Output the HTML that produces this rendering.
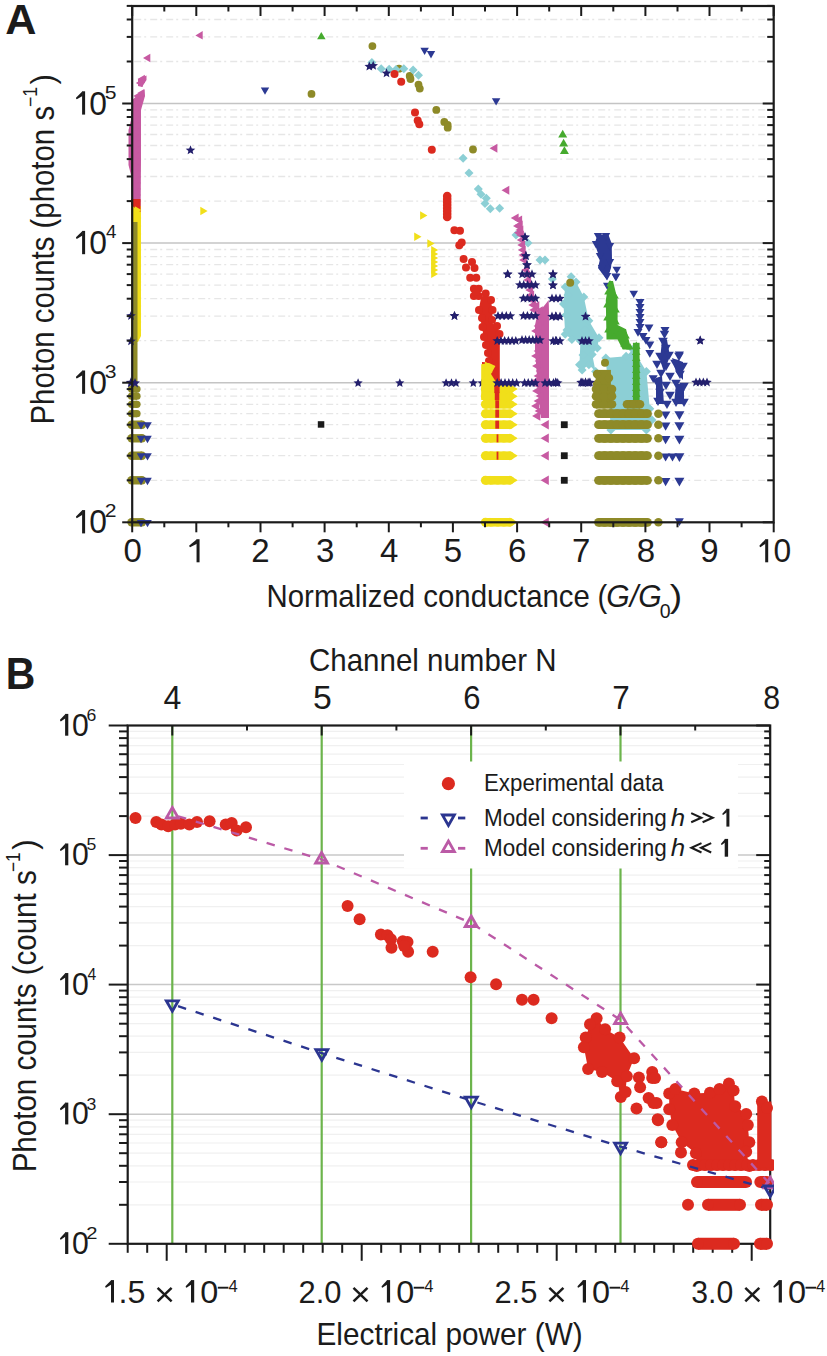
<!DOCTYPE html>
<html><head><meta charset="utf-8"><style>
html,body{margin:0;padding:0;background:#fff;}
svg{display:block;}
text{font-family:"Liberation Sans", sans-serif;fill:#1b1b1b;}
</style></head><body>
<svg width="827" height="1356" viewBox="0 0 827 1356">
<rect width="827" height="1356" fill="#fff"/>
<line x1="134.2" y1="480.3" x2="771.7" y2="480.3" stroke="#e6e6e6" stroke-width="1.3" stroke-dasharray="7 3 2 4"/>
<line x1="134.2" y1="455.7" x2="771.7" y2="455.7" stroke="#e6e6e6" stroke-width="1.3" stroke-dasharray="7 3 2 4"/>
<line x1="134.2" y1="438.3" x2="771.7" y2="438.3" stroke="#e6e6e6" stroke-width="1.3" stroke-dasharray="7 3 2 4"/>
<line x1="134.2" y1="424.7" x2="771.7" y2="424.7" stroke="#e6e6e6" stroke-width="1.3" stroke-dasharray="7 3 2 4"/>
<line x1="134.2" y1="413.7" x2="771.7" y2="413.7" stroke="#e6e6e6" stroke-width="1.3" stroke-dasharray="7 3 2 4"/>
<line x1="134.2" y1="404.3" x2="771.7" y2="404.3" stroke="#e6e6e6" stroke-width="1.3" stroke-dasharray="7 3 2 4"/>
<line x1="134.2" y1="396.2" x2="771.7" y2="396.2" stroke="#e6e6e6" stroke-width="1.3" stroke-dasharray="7 3 2 4"/>
<line x1="134.2" y1="389.1" x2="771.7" y2="389.1" stroke="#e6e6e6" stroke-width="1.3" stroke-dasharray="7 3 2 4"/>
<line x1="134.2" y1="340.7" x2="771.7" y2="340.7" stroke="#e6e6e6" stroke-width="1.3" stroke-dasharray="7 3 2 4"/>
<line x1="134.2" y1="316.1" x2="771.7" y2="316.1" stroke="#e6e6e6" stroke-width="1.3" stroke-dasharray="7 3 2 4"/>
<line x1="134.2" y1="298.7" x2="771.7" y2="298.7" stroke="#e6e6e6" stroke-width="1.3" stroke-dasharray="7 3 2 4"/>
<line x1="134.2" y1="285.1" x2="771.7" y2="285.1" stroke="#e6e6e6" stroke-width="1.3" stroke-dasharray="7 3 2 4"/>
<line x1="134.2" y1="274.1" x2="771.7" y2="274.1" stroke="#e6e6e6" stroke-width="1.3" stroke-dasharray="7 3 2 4"/>
<line x1="134.2" y1="264.7" x2="771.7" y2="264.7" stroke="#e6e6e6" stroke-width="1.3" stroke-dasharray="7 3 2 4"/>
<line x1="134.2" y1="256.6" x2="771.7" y2="256.6" stroke="#e6e6e6" stroke-width="1.3" stroke-dasharray="7 3 2 4"/>
<line x1="134.2" y1="249.5" x2="771.7" y2="249.5" stroke="#e6e6e6" stroke-width="1.3" stroke-dasharray="7 3 2 4"/>
<line x1="134.2" y1="201.1" x2="771.7" y2="201.1" stroke="#e6e6e6" stroke-width="1.3" stroke-dasharray="7 3 2 4"/>
<line x1="134.2" y1="176.5" x2="771.7" y2="176.5" stroke="#e6e6e6" stroke-width="1.3" stroke-dasharray="7 3 2 4"/>
<line x1="134.2" y1="159.1" x2="771.7" y2="159.1" stroke="#e6e6e6" stroke-width="1.3" stroke-dasharray="7 3 2 4"/>
<line x1="134.2" y1="145.5" x2="771.7" y2="145.5" stroke="#e6e6e6" stroke-width="1.3" stroke-dasharray="7 3 2 4"/>
<line x1="134.2" y1="134.5" x2="771.7" y2="134.5" stroke="#e6e6e6" stroke-width="1.3" stroke-dasharray="7 3 2 4"/>
<line x1="134.2" y1="125.1" x2="771.7" y2="125.1" stroke="#e6e6e6" stroke-width="1.3" stroke-dasharray="7 3 2 4"/>
<line x1="134.2" y1="117.0" x2="771.7" y2="117.0" stroke="#e6e6e6" stroke-width="1.3" stroke-dasharray="7 3 2 4"/>
<line x1="134.2" y1="109.9" x2="771.7" y2="109.9" stroke="#e6e6e6" stroke-width="1.3" stroke-dasharray="7 3 2 4"/>
<line x1="134.2" y1="61.5" x2="771.7" y2="61.5" stroke="#e6e6e6" stroke-width="1.3" stroke-dasharray="7 3 2 4"/>
<line x1="134.2" y1="36.9" x2="771.7" y2="36.9" stroke="#e6e6e6" stroke-width="1.3" stroke-dasharray="7 3 2 4"/>
<line x1="134.2" y1="19.5" x2="771.7" y2="19.5" stroke="#e6e6e6" stroke-width="1.3" stroke-dasharray="7 3 2 4"/>
<line x1="132.2" y1="382.7" x2="773.7" y2="382.7" stroke="#c4c4c4" stroke-width="1.5" />
<line x1="132.2" y1="243.1" x2="773.7" y2="243.1" stroke="#c4c4c4" stroke-width="1.5" />
<line x1="132.2" y1="103.5" x2="773.7" y2="103.5" stroke="#c4c4c4" stroke-width="1.5" />
<polygon points="138.0,79.0 146.5,75.5 146.5,80.0 142.0,87.0 138.0,86.0" fill="#c75aa2" opacity="1"/>
<polygon points="137.6,79.0 144.9,74.8 144.9,83.2" fill="#c75aa2"/>
<polygon points="135.8,83.0 142.8,79.0 142.8,87.0" fill="#c75aa2"/>
<polygon points="144.5,89.5 145.0,96.0 141.0,110.0 141.0,160.0 140.5,207.0 132.0,207.0 131.0,175.0 128.5,165.0 128.5,130.0 131.0,120.0 132.0,100.0" fill="#c75aa2" opacity="1"/>
<polygon points="133.3,96.0 140.3,92.0 140.3,100.0" fill="#c75aa2"/>
<polygon points="133.3,102.0 140.3,98.0 140.3,106.0" fill="#c75aa2"/>
<polygon points="133.3,108.0 140.3,104.0 140.3,112.0" fill="#c75aa2"/>
<polygon points="133.3,114.0 140.3,110.0 140.3,118.0" fill="#c75aa2"/>
<polygon points="133.3,120.0 140.3,116.0 140.3,124.0" fill="#c75aa2"/>
<polygon points="133.3,126.0 140.3,122.0 140.3,130.0" fill="#c75aa2"/>
<polygon points="133.3,132.0 140.3,128.0 140.3,136.0" fill="#c75aa2"/>
<polygon points="133.3,138.0 140.3,134.0 140.3,142.0" fill="#c75aa2"/>
<polygon points="133.3,144.0 140.3,140.0 140.3,148.0" fill="#c75aa2"/>
<polygon points="133.3,150.0 140.3,146.0 140.3,154.0" fill="#c75aa2"/>
<polygon points="133.3,156.0 140.3,152.0 140.3,160.0" fill="#c75aa2"/>
<polygon points="133.3,162.0 140.3,158.0 140.3,166.0" fill="#c75aa2"/>
<polygon points="133.3,168.0 140.3,164.0 140.3,172.0" fill="#c75aa2"/>
<polygon points="133.3,174.0 140.3,170.0 140.3,178.0" fill="#c75aa2"/>
<polygon points="133.3,180.0 140.3,176.0 140.3,184.0" fill="#c75aa2"/>
<polygon points="133.3,186.0 140.3,182.0 140.3,190.0" fill="#c75aa2"/>
<polygon points="133.3,192.0 140.3,188.0 140.3,196.0" fill="#c75aa2"/>
<polygon points="133.3,198.0 140.3,194.0 140.3,202.0" fill="#c75aa2"/>
<polygon points="133.3,204.0 140.3,200.0 140.3,208.0" fill="#c75aa2"/>
<polygon points="137.3,93.0 144.3,89.0 144.3,97.0" fill="#c75aa2"/>
<polygon points="143.0,58.0 150.3,53.8 150.3,62.2" fill="#c75aa2"/>
<polygon points="195.4,35.4 202.7,31.1 202.7,39.6" fill="#c75aa2"/>
<polygon points="131.0,206.0 141.0,206.0 141.0,336.0 138.0,342.0 131.0,342.0" fill="#f1df1a" opacity="1"/>
<polygon points="131.0,199.0 140.5,199.0 140.5,212.0 131.0,205.0" fill="#dc2a1f" opacity="1"/>
<polygon points="141.4,210.0 134.9,206.2 134.9,213.8" fill="#f1df1a"/>
<polygon points="141.4,218.0 134.9,214.2 134.9,221.8" fill="#f1df1a"/>
<polygon points="141.4,226.0 134.9,222.2 134.9,229.8" fill="#f1df1a"/>
<polygon points="141.4,234.0 134.9,230.2 134.9,237.8" fill="#f1df1a"/>
<polygon points="141.4,242.0 134.9,238.2 134.9,245.8" fill="#f1df1a"/>
<polygon points="141.4,250.0 134.9,246.2 134.9,253.8" fill="#f1df1a"/>
<polygon points="141.4,258.0 134.9,254.2 134.9,261.8" fill="#f1df1a"/>
<polygon points="141.4,266.0 134.9,262.2 134.9,269.8" fill="#f1df1a"/>
<polygon points="141.4,274.0 134.9,270.2 134.9,277.8" fill="#f1df1a"/>
<polygon points="141.4,282.0 134.9,278.2 134.9,285.8" fill="#f1df1a"/>
<polygon points="141.4,290.0 134.9,286.2 134.9,293.8" fill="#f1df1a"/>
<polygon points="141.4,298.0 134.9,294.2 134.9,301.8" fill="#f1df1a"/>
<polygon points="141.4,306.0 134.9,302.2 134.9,309.8" fill="#f1df1a"/>
<polygon points="141.4,314.0 134.9,310.2 134.9,317.8" fill="#f1df1a"/>
<polygon points="141.4,322.0 134.9,318.2 134.9,325.8" fill="#f1df1a"/>
<polygon points="141.4,330.0 134.9,326.2 134.9,333.8" fill="#f1df1a"/>
<polygon points="132.0,222.0 137.5,222.0 137.5,384.0 132.0,384.0" fill="#8e8a28" opacity="1"/>
<polygon points="131.5,385.5 137.0,385.5 137.0,392.7 131.5,392.7" fill="#8e8a28" opacity="1"/>
<circle cx="131.5" cy="389.1" r="3.6" fill="#8e8a28"/>
<circle cx="137.0" cy="389.1" r="3.6" fill="#8e8a28"/>
<polygon points="131.5,392.6 137.0,392.6 137.0,399.8 131.5,399.8" fill="#8e8a28" opacity="1"/>
<circle cx="131.5" cy="396.2" r="3.6" fill="#8e8a28"/>
<circle cx="137.0" cy="396.2" r="3.6" fill="#8e8a28"/>
<polygon points="131.5,400.7 137.0,400.7 137.0,407.9 131.5,407.9" fill="#8e8a28" opacity="1"/>
<circle cx="131.5" cy="404.3" r="3.6" fill="#8e8a28"/>
<circle cx="137.0" cy="404.3" r="3.6" fill="#8e8a28"/>
<polygon points="131.5,410.1 137.0,410.1 137.0,417.3 131.5,417.3" fill="#8e8a28" opacity="1"/>
<circle cx="131.5" cy="413.7" r="3.6" fill="#8e8a28"/>
<circle cx="137.0" cy="413.7" r="3.6" fill="#8e8a28"/>
<polygon points="131.5,420.5 142.0,420.5 142.0,428.9 131.5,428.9" fill="#8e8a28" opacity="1"/>
<circle cx="131.5" cy="424.7" r="4.2" fill="#8e8a28"/>
<circle cx="142.0" cy="424.7" r="4.2" fill="#8e8a28"/>
<polygon points="141.0,429.6 145.2,422.3 136.8,422.3" fill="#2c3993"/>
<polygon points="147.5,429.6 151.8,422.3 143.2,422.3" fill="#2c3993"/>
<polygon points="131.5,434.1 142.0,434.1 142.0,442.5 131.5,442.5" fill="#8e8a28" opacity="1"/>
<circle cx="131.5" cy="438.3" r="4.2" fill="#8e8a28"/>
<circle cx="142.0" cy="438.3" r="4.2" fill="#8e8a28"/>
<polygon points="141.0,443.2 145.2,435.8 136.8,435.8" fill="#2c3993"/>
<polygon points="147.5,443.2 151.8,435.8 143.2,435.8" fill="#2c3993"/>
<polygon points="131.5,451.5 142.0,451.5 142.0,459.9 131.5,459.9" fill="#8e8a28" opacity="1"/>
<circle cx="131.5" cy="455.7" r="4.2" fill="#8e8a28"/>
<circle cx="142.0" cy="455.7" r="4.2" fill="#8e8a28"/>
<polygon points="141.0,460.6 145.2,453.2 136.8,453.2" fill="#2c3993"/>
<polygon points="147.5,460.6 151.8,453.2 143.2,453.2" fill="#2c3993"/>
<polygon points="131.5,476.1 142.0,476.1 142.0,484.5 131.5,484.5" fill="#8e8a28" opacity="1"/>
<circle cx="131.5" cy="480.3" r="4.2" fill="#8e8a28"/>
<circle cx="142.0" cy="480.3" r="4.2" fill="#8e8a28"/>
<polygon points="141.0,485.2 145.2,477.8 136.8,477.8" fill="#2c3993"/>
<polygon points="147.5,485.2 151.8,477.8 143.2,477.8" fill="#2c3993"/>
<polygon points="131.5,518.1 142.0,518.1 142.0,526.5 131.5,526.5" fill="#8e8a28" opacity="1"/>
<circle cx="131.5" cy="522.3" r="4.2" fill="#8e8a28"/>
<circle cx="142.0" cy="522.3" r="4.2" fill="#8e8a28"/>
<polygon points="141.0,527.2 145.2,519.9 136.8,519.9" fill="#2c3993"/>
<polygon points="147.5,527.2 151.8,519.9 143.2,519.9" fill="#2c3993"/>
<polygon points="131.0,310.9 132.3,314.1 135.8,314.4 133.1,316.6 133.9,319.9 131.0,318.1 128.1,319.9 128.9,316.6 126.2,314.4 129.7,314.1" fill="#231f6c"/>
<polygon points="131.0,336.2 132.3,339.4 135.8,339.7 133.1,341.9 133.9,345.2 131.0,343.4 128.1,345.2 128.9,341.9 126.2,339.7 129.7,339.4" fill="#231f6c"/>
<polygon points="131.0,377.3 132.5,380.8 136.2,381.1 133.4,383.6 134.2,387.2 131.0,385.3 127.8,387.2 128.6,383.6 125.8,381.1 129.5,380.8" fill="#231f6c"/>
<polygon points="135.0,378.0 136.4,381.3 139.9,381.6 137.2,383.9 138.1,387.4 135.0,385.5 131.9,387.4 132.8,383.9 130.1,381.6 133.6,381.3" fill="#231f6c"/>
<polygon points="265.0,94.8 269.2,87.5 260.8,87.5" fill="#2c3993"/>
<circle cx="311.5" cy="93.9" r="3.9" fill="#8e8a28"/>
<polygon points="321.3,32.0 325.6,39.3 317.1,39.3" fill="#46aa2e"/>
<polygon points="190.5,145.3 191.8,148.5 195.3,148.8 192.6,151.0 193.4,154.3 190.5,152.6 187.6,154.3 188.4,151.0 185.7,148.8 189.2,148.5" fill="#231f6c"/>
<polygon points="207.6,210.9 200.3,206.7 200.3,215.2" fill="#f1df1a"/>
<rect x="317.8" y="421.2" width="6.5" height="6.5" fill="#1a1a1a"/>
<polygon points="358.1,378.2 359.4,381.3 362.7,381.5 360.2,383.7 360.9,386.9 358.1,385.2 355.3,386.9 356.0,383.7 353.5,381.5 356.8,381.3" fill="#231f6c"/>
<polygon points="399.8,378.2 401.1,381.3 404.4,381.5 401.9,383.7 402.6,386.9 399.8,385.2 397.0,386.9 397.7,383.7 395.2,381.5 398.5,381.3" fill="#231f6c"/>
<polygon points="446.1,378.2 447.4,381.3 450.7,381.5 448.2,383.7 448.9,386.9 446.1,385.2 443.3,386.9 444.0,383.7 441.5,381.5 444.8,381.3" fill="#231f6c"/>
<polygon points="451.5,378.2 452.8,381.3 456.1,381.5 453.6,383.7 454.3,386.9 451.5,385.2 448.7,386.9 449.4,383.7 446.9,381.5 450.2,381.3" fill="#231f6c"/>
<polygon points="456.0,378.2 457.3,381.3 460.6,381.5 458.1,383.7 458.8,386.9 456.0,385.2 453.2,386.9 453.9,383.7 451.4,381.5 454.7,381.3" fill="#231f6c"/>
<polygon points="473.3,378.2 474.6,381.3 477.9,381.5 475.4,383.7 476.1,386.9 473.3,385.2 470.5,386.9 471.2,383.7 468.7,381.5 472.0,381.3" fill="#231f6c"/>
<polygon points="482.1,378.2 483.4,381.3 486.7,381.5 484.2,383.7 484.9,386.9 482.1,385.2 479.3,386.9 480.0,383.7 477.5,381.5 480.8,381.3" fill="#231f6c"/>
<circle cx="372.4" cy="46.1" r="3.9" fill="#8e8a28"/>
<circle cx="399.0" cy="68.7" r="3.9" fill="#8e8a28"/>
<circle cx="409.7" cy="75.9" r="3.9" fill="#8e8a28"/>
<circle cx="410.5" cy="79.0" r="3.9" fill="#8e8a28"/>
<circle cx="418.5" cy="84.6" r="3.9" fill="#8e8a28"/>
<circle cx="419.8" cy="88.6" r="3.9" fill="#8e8a28"/>
<circle cx="436.3" cy="109.9" r="3.9" fill="#8e8a28"/>
<circle cx="444.3" cy="121.9" r="3.9" fill="#8e8a28"/>
<circle cx="447.7" cy="125.0" r="3.9" fill="#8e8a28"/>
<circle cx="447.7" cy="127.7" r="3.9" fill="#8e8a28"/>
<circle cx="473.0" cy="149.5" r="3.9" fill="#8e8a28"/>
<polygon points="371.9,58.1 376.4,62.6 371.9,67.1 367.4,62.6" fill="#8ccfd5"/>
<polygon points="381.2,64.2 385.7,68.7 381.2,73.2 376.7,68.7" fill="#8ccfd5"/>
<polygon points="389.2,64.7 393.7,69.2 389.2,73.7 384.7,69.2" fill="#8ccfd5"/>
<polygon points="396.0,65.0 400.5,69.5 396.0,74.0 391.5,69.5" fill="#8ccfd5"/>
<polygon points="403.8,64.2 408.3,68.7 403.8,73.2 399.3,68.7" fill="#8ccfd5"/>
<polygon points="413.1,65.5 417.6,70.0 413.1,74.5 408.6,70.0" fill="#8ccfd5"/>
<polygon points="418.5,70.8 423.0,75.3 418.5,79.8 414.0,75.3" fill="#8ccfd5"/>
<polygon points="463.1,153.8 467.6,158.3 463.1,162.8 458.6,158.3" fill="#8ccfd5"/>
<polygon points="469.0,168.4 473.5,172.9 469.0,177.4 464.5,172.9" fill="#8ccfd5"/>
<polygon points="478.3,184.4 482.8,188.9 478.3,193.4 473.8,188.9" fill="#8ccfd5"/>
<polygon points="481.0,189.7 485.5,194.2 481.0,198.7 476.5,194.2" fill="#8ccfd5"/>
<polygon points="486.3,193.7 490.8,198.2 486.3,202.7 481.8,198.2" fill="#8ccfd5"/>
<polygon points="485.0,199.0 489.5,203.5 485.0,208.0 480.5,203.5" fill="#8ccfd5"/>
<polygon points="490.3,204.3 494.8,208.8 490.3,213.3 485.8,208.8" fill="#8ccfd5"/>
<polygon points="499.6,203.8 504.1,208.3 499.6,212.8 495.1,208.3" fill="#8ccfd5"/>
<polygon points="516.0,230.4 520.5,234.9 516.0,239.4 511.5,234.9" fill="#8ccfd5"/>
<polygon points="528.0,238.5 532.5,243.0 528.0,247.5 523.5,243.0" fill="#8ccfd5"/>
<polygon points="540.0,255.5 544.5,260.0 540.0,264.5 535.5,260.0" fill="#8ccfd5"/>
<polygon points="545.0,255.5 549.5,260.0 545.0,264.5 540.5,260.0" fill="#8ccfd5"/>
<polygon points="552.4,274.5 556.9,279.0 552.4,283.5 547.9,279.0" fill="#8ccfd5"/>
<polygon points="369.3,61.5 370.6,64.7 374.1,65.0 371.4,67.2 372.2,70.5 369.3,68.8 366.4,70.5 367.2,67.2 364.5,65.0 368.0,64.7" fill="#231f6c"/>
<polygon points="373.2,60.7 374.5,63.9 378.0,64.2 375.3,66.4 376.1,69.7 373.2,68.0 370.3,69.7 371.1,66.4 368.4,64.2 371.9,63.9" fill="#231f6c"/>
<polygon points="386.5,68.2 387.8,71.4 391.3,71.7 388.6,73.9 389.4,77.2 386.5,75.5 383.6,77.2 384.4,73.9 381.7,71.7 385.2,71.4" fill="#231f6c"/>
<circle cx="394.5" cy="74.0" r="4" fill="#dc2a1f"/>
<circle cx="401.2" cy="81.7" r="4" fill="#dc2a1f"/>
<circle cx="415.0" cy="112.6" r="4" fill="#dc2a1f"/>
<circle cx="417.7" cy="120.5" r="4" fill="#dc2a1f"/>
<circle cx="419.3" cy="124.3" r="4" fill="#dc2a1f"/>
<circle cx="431.8" cy="149.8" r="4" fill="#dc2a1f"/>
<circle cx="454.4" cy="230.3" r="4" fill="#dc2a1f"/>
<circle cx="460.0" cy="230.8" r="4" fill="#dc2a1f"/>
<circle cx="459.3" cy="245.3" r="4" fill="#dc2a1f"/>
<circle cx="461.7" cy="242.4" r="4" fill="#dc2a1f"/>
<circle cx="463.6" cy="259.1" r="4" fill="#dc2a1f"/>
<circle cx="472.0" cy="262.1" r="4" fill="#dc2a1f"/>
<circle cx="466.0" cy="267.5" r="4" fill="#dc2a1f"/>
<circle cx="474.5" cy="268.1" r="4" fill="#dc2a1f"/>
<circle cx="470.2" cy="277.8" r="4" fill="#dc2a1f"/>
<circle cx="476.3" cy="277.8" r="4" fill="#dc2a1f"/>
<circle cx="473.9" cy="288.7" r="4" fill="#dc2a1f"/>
<circle cx="478.7" cy="288.7" r="4" fill="#dc2a1f"/>
<circle cx="473.9" cy="296.0" r="4" fill="#dc2a1f"/>
<circle cx="478.7" cy="296.0" r="4" fill="#dc2a1f"/>
<circle cx="476.0" cy="292.0" r="4" fill="#dc2a1f"/>
<circle cx="485.7" cy="293.5" r="4" fill="#dc2a1f"/>
<circle cx="488.4" cy="300.8" r="4" fill="#dc2a1f"/>
<circle cx="447.2" cy="196.0" r="4.3" fill="#dc2a1f"/>
<circle cx="447.2" cy="199.0" r="4.3" fill="#dc2a1f"/>
<circle cx="447.2" cy="202.0" r="4.3" fill="#dc2a1f"/>
<circle cx="447.2" cy="205.0" r="4.3" fill="#dc2a1f"/>
<circle cx="447.2" cy="208.0" r="4.3" fill="#dc2a1f"/>
<circle cx="447.2" cy="211.0" r="4.3" fill="#dc2a1f"/>
<circle cx="447.2" cy="214.0" r="4.3" fill="#dc2a1f"/>
<circle cx="447.2" cy="217.0" r="4.3" fill="#dc2a1f"/>
<polygon points="424.6,55.0 428.9,47.7 420.4,47.7" fill="#2c3993"/>
<polygon points="431.0,58.4 435.2,51.1 426.8,51.1" fill="#2c3993"/>
<polygon points="496.1,105.5 500.4,98.2 491.9,98.2" fill="#2c3993"/>
<polygon points="485.7,291.8 491.0,300.6 492.7,312.1 491.9,323.6 497.2,325.4 499.4,332.5 499.8,343.1 499.8,378.5 503.4,390.0 501.5,396.0 494.0,396.0 482.0,394.0 482.0,362.0 489.2,362.6 488.3,357.3 486.5,347.5 483.9,339.6 482.1,327.2 478.6,310.4 481.0,298.0" fill="#dc2a1f" opacity="1"/>
<circle cx="479.0" cy="310.0" r="4" fill="#dc2a1f"/>
<circle cx="482.0" cy="318.0" r="4" fill="#dc2a1f"/>
<circle cx="482.5" cy="327.0" r="4" fill="#dc2a1f"/>
<circle cx="484.0" cy="337.0" r="4" fill="#dc2a1f"/>
<circle cx="486.0" cy="345.0" r="4" fill="#dc2a1f"/>
<circle cx="488.0" cy="353.0" r="4" fill="#dc2a1f"/>
<circle cx="489.0" cy="361.0" r="4" fill="#dc2a1f"/>
<circle cx="491.0" cy="300.0" r="4" fill="#dc2a1f"/>
<circle cx="492.5" cy="310.0" r="4" fill="#dc2a1f"/>
<circle cx="492.0" cy="320.0" r="4" fill="#dc2a1f"/>
<circle cx="497.0" cy="326.0" r="4" fill="#dc2a1f"/>
<circle cx="499.5" cy="334.0" r="4" fill="#dc2a1f"/>
<polygon points="427.4,215.5 420.1,211.2 420.1,219.8" fill="#f1df1a"/>
<polygon points="421.5,236.8 414.2,232.6 414.2,241.1" fill="#f1df1a"/>
<polygon points="434.6,243.4 427.3,239.2 427.3,247.7" fill="#f1df1a"/>
<polygon points="438.2,250.0 431.2,246.0 431.2,254.0" fill="#f1df1a"/>
<polygon points="438.2,254.0 431.2,250.0 431.2,258.0" fill="#f1df1a"/>
<polygon points="438.2,258.0 431.2,254.0 431.2,262.0" fill="#f1df1a"/>
<polygon points="438.2,262.0 431.2,258.0 431.2,266.0" fill="#f1df1a"/>
<polygon points="438.2,266.0 431.2,262.0 431.2,270.0" fill="#f1df1a"/>
<polygon points="438.2,270.0 431.2,266.0 431.2,274.0" fill="#f1df1a"/>
<polygon points="438.2,274.0 431.2,270.0 431.2,278.0" fill="#f1df1a"/>
<polygon points="481.2,364.3 489.0,363.0 495.4,366.0 491.0,374.0 496.0,382.0 493.0,392.0 497.0,400.0 481.2,400.0" fill="#f1df1a" opacity="1"/>
<polygon points="492.7,366.0 484.9,361.5 484.9,370.5" fill="#f1df1a"/>
<polygon points="492.7,372.0 484.9,367.5 484.9,376.5" fill="#f1df1a"/>
<polygon points="492.7,378.0 484.9,373.5 484.9,382.5" fill="#f1df1a"/>
<polygon points="492.7,384.0 484.9,379.5 484.9,388.5" fill="#f1df1a"/>
<polygon points="492.7,390.0 484.9,385.5 484.9,394.5" fill="#f1df1a"/>
<polygon points="492.7,396.0 484.9,391.5 484.9,400.5" fill="#f1df1a"/>
<polygon points="485.5,384.8 510.0,384.8 510.0,393.4 485.5,393.4" fill="#f1df1a" opacity="1"/>
<circle cx="485.5" cy="389.1" r="4.3" fill="#f1df1a"/>
<circle cx="491.6" cy="389.1" r="4.3" fill="#f1df1a"/>
<circle cx="497.8" cy="389.1" r="4.3" fill="#f1df1a"/>
<circle cx="503.9" cy="389.1" r="4.3" fill="#f1df1a"/>
<circle cx="510.0" cy="389.1" r="4.3" fill="#f1df1a"/>
<polygon points="517.9,389.1 509.7,384.3 509.7,393.8" fill="#f1df1a"/>
<polygon points="497.7,389.1 489.9,384.6 489.9,393.6" fill="#f1df1a"/>
<circle cx="485.5" cy="389.1" r="4.5" fill="#f1df1a"/>
<polygon points="485.5,391.9 510.0,391.9 510.0,400.5 485.5,400.5" fill="#f1df1a" opacity="1"/>
<circle cx="485.5" cy="396.2" r="4.3" fill="#f1df1a"/>
<circle cx="491.6" cy="396.2" r="4.3" fill="#f1df1a"/>
<circle cx="497.8" cy="396.2" r="4.3" fill="#f1df1a"/>
<circle cx="503.9" cy="396.2" r="4.3" fill="#f1df1a"/>
<circle cx="510.0" cy="396.2" r="4.3" fill="#f1df1a"/>
<polygon points="517.9,396.2 509.7,391.5 509.7,401.0" fill="#f1df1a"/>
<polygon points="497.7,396.2 489.9,391.7 489.9,400.7" fill="#f1df1a"/>
<circle cx="485.5" cy="396.2" r="4.5" fill="#f1df1a"/>
<polygon points="485.5,400.0 510.0,400.0 510.0,408.6 485.5,408.6" fill="#f1df1a" opacity="1"/>
<circle cx="485.5" cy="404.3" r="4.3" fill="#f1df1a"/>
<circle cx="491.6" cy="404.3" r="4.3" fill="#f1df1a"/>
<circle cx="497.8" cy="404.3" r="4.3" fill="#f1df1a"/>
<circle cx="503.9" cy="404.3" r="4.3" fill="#f1df1a"/>
<circle cx="510.0" cy="404.3" r="4.3" fill="#f1df1a"/>
<polygon points="517.9,404.3 509.7,399.6 509.7,409.1" fill="#f1df1a"/>
<polygon points="497.7,404.3 489.9,399.8 489.9,408.8" fill="#f1df1a"/>
<circle cx="485.5" cy="404.3" r="4.5" fill="#f1df1a"/>
<polygon points="485.5,409.4 510.0,409.4 510.0,418.0 485.5,418.0" fill="#f1df1a" opacity="1"/>
<circle cx="485.5" cy="413.7" r="4.3" fill="#f1df1a"/>
<circle cx="491.6" cy="413.7" r="4.3" fill="#f1df1a"/>
<circle cx="497.8" cy="413.7" r="4.3" fill="#f1df1a"/>
<circle cx="503.9" cy="413.7" r="4.3" fill="#f1df1a"/>
<circle cx="510.0" cy="413.7" r="4.3" fill="#f1df1a"/>
<polygon points="517.9,413.7 509.7,408.9 509.7,418.4" fill="#f1df1a"/>
<polygon points="497.7,413.7 489.9,409.2 489.9,418.2" fill="#f1df1a"/>
<circle cx="485.5" cy="413.7" r="4.5" fill="#f1df1a"/>
<polygon points="485.5,420.4 510.0,420.4 510.0,429.0 485.5,429.0" fill="#f1df1a" opacity="1"/>
<circle cx="485.5" cy="424.7" r="4.3" fill="#f1df1a"/>
<circle cx="491.6" cy="424.7" r="4.3" fill="#f1df1a"/>
<circle cx="497.8" cy="424.7" r="4.3" fill="#f1df1a"/>
<circle cx="503.9" cy="424.7" r="4.3" fill="#f1df1a"/>
<circle cx="510.0" cy="424.7" r="4.3" fill="#f1df1a"/>
<polygon points="517.9,424.7 509.7,420.0 509.7,429.5" fill="#f1df1a"/>
<polygon points="497.7,424.7 489.9,420.2 489.9,429.2" fill="#f1df1a"/>
<circle cx="485.5" cy="424.7" r="4.5" fill="#f1df1a"/>
<polygon points="485.5,434.0 510.0,434.0 510.0,442.6 485.5,442.6" fill="#f1df1a" opacity="1"/>
<circle cx="485.5" cy="438.3" r="4.3" fill="#f1df1a"/>
<circle cx="491.6" cy="438.3" r="4.3" fill="#f1df1a"/>
<circle cx="497.8" cy="438.3" r="4.3" fill="#f1df1a"/>
<circle cx="503.9" cy="438.3" r="4.3" fill="#f1df1a"/>
<circle cx="510.0" cy="438.3" r="4.3" fill="#f1df1a"/>
<polygon points="517.9,438.3 509.7,433.5 509.7,443.0" fill="#f1df1a"/>
<polygon points="497.7,438.3 489.9,433.8 489.9,442.8" fill="#f1df1a"/>
<circle cx="485.5" cy="438.3" r="4.5" fill="#f1df1a"/>
<polygon points="485.5,451.4 510.0,451.4 510.0,460.0 485.5,460.0" fill="#f1df1a" opacity="1"/>
<circle cx="485.5" cy="455.7" r="4.3" fill="#f1df1a"/>
<circle cx="491.6" cy="455.7" r="4.3" fill="#f1df1a"/>
<circle cx="497.8" cy="455.7" r="4.3" fill="#f1df1a"/>
<circle cx="503.9" cy="455.7" r="4.3" fill="#f1df1a"/>
<circle cx="510.0" cy="455.7" r="4.3" fill="#f1df1a"/>
<polygon points="517.9,455.7 509.7,450.9 509.7,460.4" fill="#f1df1a"/>
<polygon points="497.7,455.7 489.9,451.2 489.9,460.2" fill="#f1df1a"/>
<circle cx="485.5" cy="455.7" r="4.5" fill="#f1df1a"/>
<polygon points="485.5,476.0 510.0,476.0 510.0,484.6 485.5,484.6" fill="#f1df1a" opacity="1"/>
<circle cx="485.5" cy="480.3" r="4.3" fill="#f1df1a"/>
<circle cx="491.6" cy="480.3" r="4.3" fill="#f1df1a"/>
<circle cx="497.8" cy="480.3" r="4.3" fill="#f1df1a"/>
<circle cx="503.9" cy="480.3" r="4.3" fill="#f1df1a"/>
<circle cx="510.0" cy="480.3" r="4.3" fill="#f1df1a"/>
<polygon points="517.9,480.3 509.7,475.5 509.7,485.0" fill="#f1df1a"/>
<polygon points="497.7,480.3 489.9,475.8 489.9,484.8" fill="#f1df1a"/>
<circle cx="485.5" cy="480.3" r="4.5" fill="#f1df1a"/>
<polygon points="485.5,518.0 510.0,518.0 510.0,526.6 485.5,526.6" fill="#f1df1a" opacity="1"/>
<circle cx="485.5" cy="522.3" r="4.3" fill="#f1df1a"/>
<circle cx="491.6" cy="522.3" r="4.3" fill="#f1df1a"/>
<circle cx="497.8" cy="522.3" r="4.3" fill="#f1df1a"/>
<circle cx="503.9" cy="522.3" r="4.3" fill="#f1df1a"/>
<circle cx="510.0" cy="522.3" r="4.3" fill="#f1df1a"/>
<polygon points="517.9,522.3 509.7,517.5 509.7,527.0" fill="#f1df1a"/>
<polygon points="497.7,522.3 489.9,517.8 489.9,526.8" fill="#f1df1a"/>
<circle cx="485.5" cy="522.3" r="4.5" fill="#f1df1a"/>
<polygon points="494.3,385.1 499.6,385.1 499.6,393.1 494.3,393.1" fill="#dc2a1f" opacity="1"/>
<polygon points="494.8,392.2 499.3,392.2 499.3,400.2 494.8,400.2" fill="#dc2a1f" opacity="1"/>
<polygon points="495.3,400.3 499.1,400.3 499.1,408.3 495.3,408.3" fill="#dc2a1f" opacity="1"/>
<polygon points="495.3,409.7 499.1,409.7 499.1,417.7 495.3,417.7" fill="#dc2a1f" opacity="1"/>
<polygon points="495.3,420.7 499.1,420.7 499.1,428.7 495.3,428.7" fill="#dc2a1f" opacity="1"/>
<polygon points="496.6,434.3 498.4,434.3 498.4,442.3 496.6,442.3" fill="#dc2a1f" opacity="1"/>
<polygon points="496.6,451.7 498.4,451.7 498.4,459.7 496.6,459.7" fill="#dc2a1f" opacity="1"/>
<polygon points="489.6,148.2 497.4,143.7 497.4,152.7" fill="#c75aa2"/>
<polygon points="501.5,190.2 509.3,185.7 509.3,194.7" fill="#c75aa2"/>
<polygon points="510.8,218.1 518.6,213.6 518.6,222.6" fill="#c75aa2"/>
<polygon points="513.0,226.1 520.8,221.6 520.8,230.6" fill="#c75aa2"/>
<polygon points="514.0,232.8 521.8,228.3 521.8,237.3" fill="#c75aa2"/>
<polygon points="514.3,220.0 522.1,215.5 522.1,224.5" fill="#c75aa2"/>
<polygon points="514.9,225.0 522.7,220.5 522.7,229.5" fill="#c75aa2"/>
<polygon points="515.5,230.0 523.3,225.5 523.3,234.5" fill="#c75aa2"/>
<polygon points="516.1,235.0 523.9,230.5 523.9,239.5" fill="#c75aa2"/>
<polygon points="516.7,240.0 524.5,235.5 524.5,244.5" fill="#c75aa2"/>
<polygon points="517.3,245.0 525.1,240.5 525.1,249.5" fill="#c75aa2"/>
<polygon points="517.9,250.0 525.7,245.5 525.7,254.5" fill="#c75aa2"/>
<polygon points="518.5,255.0 526.3,250.5 526.3,259.5" fill="#c75aa2"/>
<polygon points="519.1,260.0 526.9,255.5 526.9,264.5" fill="#c75aa2"/>
<polygon points="521.3,270.0 529.1,265.5 529.1,274.5" fill="#c75aa2"/>
<polygon points="522.3,275.0 530.1,270.5 530.1,279.5" fill="#c75aa2"/>
<polygon points="523.3,280.0 531.1,275.5 531.1,284.5" fill="#c75aa2"/>
<polygon points="524.3,285.0 532.1,280.5 532.1,289.5" fill="#c75aa2"/>
<polygon points="525.3,290.0 533.1,285.5 533.1,294.5" fill="#c75aa2"/>
<polygon points="526.3,295.0 534.1,290.5 534.1,299.5" fill="#c75aa2"/>
<polygon points="527.3,300.0 535.1,295.5 535.1,304.5" fill="#c75aa2"/>
<polygon points="528.3,305.0 536.1,300.5 536.1,309.5" fill="#c75aa2"/>
<polygon points="529.3,310.0 537.1,305.5 537.1,314.5" fill="#c75aa2"/>
<polygon points="538.0,312.0 544.0,306.0 548.7,300.0 549.0,312.0 549.0,418.0 541.0,418.0 538.0,390.0 535.0,350.0 535.0,325.0" fill="#c75aa2" opacity="1"/>
<polygon points="531.1,306.0 539.3,301.2 539.3,310.8" fill="#c75aa2"/>
<polygon points="534.6,311.0 542.8,306.2 542.8,315.8" fill="#c75aa2"/>
<polygon points="532.1,316.0 540.3,311.2 540.3,320.8" fill="#c75aa2"/>
<polygon points="535.6,321.0 543.8,316.2 543.8,325.8" fill="#c75aa2"/>
<polygon points="533.6,326.0 541.8,321.2 541.8,330.8" fill="#c75aa2"/>
<polygon points="531.1,331.0 539.3,326.2 539.3,335.8" fill="#c75aa2"/>
<polygon points="534.6,336.0 542.8,331.2 542.8,340.8" fill="#c75aa2"/>
<polygon points="532.1,341.0 540.3,336.2 540.3,345.8" fill="#c75aa2"/>
<polygon points="535.6,346.0 543.8,341.2 543.8,350.8" fill="#c75aa2"/>
<polygon points="533.6,351.0 541.8,346.2 541.8,355.8" fill="#c75aa2"/>
<polygon points="531.1,356.0 539.3,351.2 539.3,360.8" fill="#c75aa2"/>
<polygon points="534.6,361.0 542.8,356.2 542.8,365.8" fill="#c75aa2"/>
<polygon points="532.1,366.0 540.3,361.2 540.3,370.8" fill="#c75aa2"/>
<polygon points="535.6,371.0 543.8,366.2 543.8,375.8" fill="#c75aa2"/>
<polygon points="533.6,376.0 541.8,371.2 541.8,380.8" fill="#c75aa2"/>
<polygon points="531.1,381.0 539.3,376.2 539.3,385.8" fill="#c75aa2"/>
<polygon points="534.6,386.0 542.8,381.2 542.8,390.8" fill="#c75aa2"/>
<polygon points="532.1,391.0 540.3,386.2 540.3,395.8" fill="#c75aa2"/>
<polygon points="535.6,396.0 543.8,391.2 543.8,400.8" fill="#c75aa2"/>
<polygon points="533.6,401.0 541.8,396.2 541.8,405.8" fill="#c75aa2"/>
<polygon points="531.1,406.0 539.3,401.2 539.3,410.8" fill="#c75aa2"/>
<polygon points="534.6,411.0 542.8,406.2 542.8,415.8" fill="#c75aa2"/>
<polygon points="532.1,416.0 540.3,411.2 540.3,420.8" fill="#c75aa2"/>
<polygon points="540.6,424.7 548.8,420.0 548.8,429.5" fill="#c75aa2"/>
<polygon points="540.6,438.3 548.8,433.5 548.8,443.0" fill="#c75aa2"/>
<polygon points="540.6,455.7 548.8,450.9 548.8,460.4" fill="#c75aa2"/>
<polygon points="540.6,480.3 548.8,475.5 548.8,485.0" fill="#c75aa2"/>
<polygon points="540.6,522.3 548.8,517.5 548.8,527.0" fill="#c75aa2"/>
<polygon points="454.5,310.9 455.8,314.1 459.3,314.4 456.6,316.6 457.4,319.9 454.5,318.1 451.6,319.9 452.4,316.6 449.7,314.4 453.2,314.1" fill="#231f6c"/>
<polygon points="454.5,310.9 455.8,314.1 459.3,314.4 456.6,316.6 457.4,319.9 454.5,318.1 451.6,319.9 452.4,316.6 449.7,314.4 453.2,314.1" fill="#231f6c"/>
<polygon points="498.0,311.0 499.3,314.2 502.8,314.5 500.1,316.7 500.9,320.0 498.0,318.2 495.1,320.0 495.9,316.7 493.2,314.5 496.7,314.2" fill="#231f6c"/>
<polygon points="502.1,311.0 503.5,314.2 506.9,314.5 504.3,316.7 505.1,320.0 502.1,318.2 499.2,320.0 500.0,316.7 497.4,314.5 500.8,314.2" fill="#231f6c"/>
<polygon points="506.3,311.0 507.6,314.2 511.0,314.5 508.4,316.7 509.2,320.0 506.3,318.2 503.3,320.0 504.1,316.7 501.5,314.5 504.9,314.2" fill="#231f6c"/>
<polygon points="510.4,311.0 511.7,314.2 515.2,314.5 512.5,316.7 513.3,320.0 510.4,318.2 507.5,320.0 508.3,316.7 505.6,314.5 509.1,314.2" fill="#231f6c"/>
<polygon points="523.4,310.9 524.7,314.1 528.2,314.4 525.5,316.6 526.3,319.9 523.4,318.1 520.5,319.9 521.3,316.6 518.6,314.4 522.1,314.1" fill="#231f6c"/>
<polygon points="527.4,310.9 528.8,314.1 532.2,314.4 529.6,316.6 530.4,319.9 527.4,318.1 524.5,319.9 525.3,316.6 522.7,314.4 526.1,314.1" fill="#231f6c"/>
<polygon points="531.5,310.9 532.8,314.1 536.2,314.4 533.6,316.6 534.4,319.9 531.5,318.1 528.5,319.9 529.3,316.6 526.7,314.4 530.1,314.1" fill="#231f6c"/>
<polygon points="535.5,310.9 536.8,314.1 540.3,314.4 537.6,316.6 538.4,319.9 535.5,318.1 532.6,319.9 533.4,316.6 530.7,314.4 534.2,314.1" fill="#231f6c"/>
<polygon points="497.2,335.9 498.5,339.1 502.0,339.4 499.3,341.6 500.1,344.9 497.2,343.1 494.3,344.9 495.1,341.6 492.4,339.4 495.9,339.1" fill="#231f6c"/>
<polygon points="500.9,335.9 502.2,339.1 505.7,339.4 503.1,341.6 503.9,344.9 500.9,343.1 498.0,344.9 498.8,341.6 496.2,339.4 499.6,339.1" fill="#231f6c"/>
<polygon points="504.6,335.9 506.0,339.1 509.4,339.4 506.8,341.6 507.6,344.9 504.6,343.1 501.7,344.9 502.5,341.6 499.9,339.4 503.3,339.1" fill="#231f6c"/>
<polygon points="508.4,335.9 509.7,339.1 513.1,339.4 510.5,341.6 511.3,344.9 508.4,343.1 505.4,344.9 506.2,341.6 503.6,339.4 507.0,339.1" fill="#231f6c"/>
<polygon points="512.1,335.9 513.4,339.1 516.8,339.4 514.2,341.6 515.0,344.9 512.1,343.1 509.1,344.9 509.9,341.6 507.3,339.4 510.8,339.1" fill="#231f6c"/>
<polygon points="515.8,335.9 517.1,339.1 520.6,339.4 517.9,341.6 518.7,344.9 515.8,343.1 512.9,344.9 513.7,341.6 511.0,339.4 514.5,339.1" fill="#231f6c"/>
<polygon points="522.0,335.1 523.3,338.3 526.8,338.6 524.1,340.8 524.9,344.1 522.0,342.4 519.1,344.1 519.9,340.8 517.2,338.6 520.7,338.3" fill="#231f6c"/>
<polygon points="525.6,335.1 526.9,338.3 530.4,338.6 527.7,340.8 528.5,344.1 525.6,342.4 522.7,344.1 523.5,340.8 520.8,338.6 524.3,338.3" fill="#231f6c"/>
<polygon points="529.2,335.1 530.5,338.3 534.0,338.6 531.3,340.8 532.1,344.1 529.2,342.4 526.3,344.1 527.1,340.8 524.4,338.6 527.9,338.3" fill="#231f6c"/>
<polygon points="532.8,335.1 534.1,338.3 537.6,338.6 534.9,340.8 535.7,344.1 532.8,342.4 529.9,344.1 530.7,340.8 528.0,338.6 531.5,338.3" fill="#231f6c"/>
<polygon points="536.4,335.1 537.7,338.3 541.2,338.6 538.5,340.8 539.3,344.1 536.4,342.4 533.5,344.1 534.3,340.8 531.6,338.6 535.1,338.3" fill="#231f6c"/>
<polygon points="540.0,335.1 541.3,338.3 544.8,338.6 542.1,340.8 542.9,344.1 540.0,342.4 537.1,344.1 537.9,340.8 535.2,338.6 538.7,338.3" fill="#231f6c"/>
<polygon points="497.2,378.0 498.5,381.2 502.0,381.5 499.3,383.7 500.1,387.0 497.2,385.2 494.3,387.0 495.1,383.7 492.4,381.5 495.9,381.2" fill="#231f6c"/>
<polygon points="501.1,378.0 502.4,381.2 505.8,381.5 503.2,383.7 504.0,387.0 501.1,385.2 498.1,387.0 498.9,383.7 496.3,381.5 499.8,381.2" fill="#231f6c"/>
<polygon points="505.0,378.0 506.3,381.2 509.7,381.5 507.1,383.7 507.9,387.0 505.0,385.2 502.0,387.0 502.8,383.7 500.2,381.5 503.6,381.2" fill="#231f6c"/>
<polygon points="508.8,378.0 510.2,381.2 513.6,381.5 511.0,383.7 511.8,387.0 508.8,385.2 505.9,387.0 506.7,383.7 504.1,381.5 507.5,381.2" fill="#231f6c"/>
<polygon points="512.7,378.0 514.0,381.2 517.5,381.5 514.9,383.7 515.7,387.0 512.7,385.2 509.8,387.0 510.6,383.7 508.0,381.5 511.4,381.2" fill="#231f6c"/>
<polygon points="516.6,378.0 517.9,381.2 521.4,381.5 518.7,383.7 519.5,387.0 516.6,385.2 513.7,387.0 514.5,383.7 511.8,381.5 515.3,381.2" fill="#231f6c"/>
<polygon points="524.6,378.0 525.9,381.2 529.4,381.5 526.7,383.7 527.5,387.0 524.6,385.2 521.7,387.0 522.5,383.7 519.8,381.5 523.3,381.2" fill="#231f6c"/>
<polygon points="528.2,378.0 529.6,381.2 533.0,381.5 530.4,383.7 531.2,387.0 528.2,385.2 525.3,387.0 526.1,383.7 523.5,381.5 526.9,381.2" fill="#231f6c"/>
<polygon points="531.9,378.0 533.2,381.2 536.6,381.5 534.0,383.7 534.8,387.0 531.9,385.2 528.9,387.0 529.7,383.7 527.1,381.5 530.5,381.2" fill="#231f6c"/>
<polygon points="535.5,378.0 536.8,381.2 540.3,381.5 537.6,383.7 538.4,387.0 535.5,385.2 532.6,387.0 533.4,383.7 530.7,381.5 534.2,381.2" fill="#231f6c"/>
<polygon points="545.0,378.0 546.3,381.2 549.8,381.5 547.1,383.7 547.9,387.0 545.0,385.2 542.1,387.0 542.9,383.7 540.2,381.5 543.7,381.2" fill="#231f6c"/>
<polygon points="549.2,378.0 550.6,381.2 554.0,381.5 551.4,383.7 552.2,387.0 549.2,385.2 546.3,387.0 547.1,383.7 544.5,381.5 547.9,381.2" fill="#231f6c"/>
<polygon points="553.5,378.0 554.8,381.2 558.2,381.5 555.6,383.7 556.4,387.0 553.5,385.2 550.5,387.0 551.3,383.7 548.7,381.5 552.1,381.2" fill="#231f6c"/>
<polygon points="557.7,378.0 559.0,381.2 562.5,381.5 559.8,383.7 560.6,387.0 557.7,385.2 554.8,387.0 555.6,383.7 552.9,381.5 556.4,381.2" fill="#231f6c"/>
<polygon points="583.0,378.0 584.3,381.2 587.8,381.5 585.1,383.7 585.9,387.0 583.0,385.2 580.1,387.0 580.9,383.7 578.2,381.5 581.7,381.2" fill="#231f6c"/>
<polygon points="588.0,378.0 589.3,381.2 592.8,381.5 590.1,383.7 590.9,387.0 588.0,385.2 585.1,387.0 585.9,383.7 583.2,381.5 586.7,381.2" fill="#231f6c"/>
<polygon points="507.7,269.2 509.0,272.4 512.5,272.7 509.8,274.9 510.6,278.2 507.7,276.4 504.8,278.2 505.6,274.9 502.9,272.7 506.4,272.4" fill="#231f6c"/>
<polygon points="507.7,269.2 509.0,272.4 512.5,272.7 509.8,274.9 510.6,278.2 507.7,276.4 504.8,278.2 505.6,274.9 502.9,272.7 506.4,272.4" fill="#231f6c"/>
<polygon points="522.2,269.2 523.5,272.4 527.0,272.7 524.3,274.9 525.1,278.2 522.2,276.4 519.3,278.2 520.1,274.9 517.4,272.7 520.9,272.4" fill="#231f6c"/>
<polygon points="527.1,269.2 528.4,272.4 531.9,272.7 529.2,274.9 530.0,278.2 527.1,276.4 524.2,278.2 525.0,274.9 522.3,272.7 525.8,272.4" fill="#231f6c"/>
<polygon points="532.0,269.2 533.3,272.4 536.8,272.7 534.1,274.9 534.9,278.2 532.0,276.4 529.1,278.2 529.9,274.9 527.2,272.7 530.7,272.4" fill="#231f6c"/>
<polygon points="519.8,280.0 521.1,283.2 524.6,283.5 521.9,285.7 522.7,289.0 519.8,287.2 516.9,289.0 517.7,285.7 515.0,283.5 518.5,283.2" fill="#231f6c"/>
<polygon points="523.7,280.0 525.0,283.2 528.5,283.5 525.9,285.7 526.7,289.0 523.7,287.2 520.8,289.0 521.6,285.7 519.0,283.5 522.4,283.2" fill="#231f6c"/>
<polygon points="527.6,280.0 529.0,283.2 532.4,283.5 529.8,285.7 530.6,289.0 527.6,287.2 524.7,289.0 525.5,285.7 522.9,283.5 526.3,283.2" fill="#231f6c"/>
<polygon points="531.6,280.0 532.9,283.2 536.3,283.5 533.7,285.7 534.5,289.0 531.6,287.2 528.6,289.0 529.4,285.7 526.8,283.5 530.3,283.2" fill="#231f6c"/>
<polygon points="535.5,280.0 536.8,283.2 540.3,283.5 537.6,285.7 538.4,289.0 535.5,287.2 532.6,289.0 533.4,285.7 530.7,283.5 534.2,283.2" fill="#231f6c"/>
<polygon points="523.4,293.4 524.7,296.6 528.2,296.9 525.5,299.1 526.3,302.4 523.4,300.6 520.5,302.4 521.3,299.1 518.6,296.9 522.1,296.6" fill="#231f6c"/>
<polygon points="527.4,293.4 528.8,296.6 532.2,296.9 529.6,299.1 530.4,302.4 527.4,300.6 524.5,302.4 525.3,299.1 522.7,296.9 526.1,296.6" fill="#231f6c"/>
<polygon points="531.5,293.4 532.8,296.6 536.2,296.9 533.6,299.1 534.4,302.4 531.5,300.6 528.5,302.4 529.3,299.1 526.7,296.9 530.1,296.6" fill="#231f6c"/>
<polygon points="535.5,293.4 536.8,296.6 540.3,296.9 537.6,299.1 538.4,302.4 535.5,300.6 532.6,302.4 533.4,299.1 530.7,296.9 534.2,296.6" fill="#231f6c"/>
<polygon points="525.9,251.0 527.2,254.2 530.7,254.5 528.0,256.7 528.8,260.0 525.9,258.2 523.0,260.0 523.8,256.7 521.1,254.5 524.6,254.2" fill="#231f6c"/>
<polygon points="525.9,251.0 527.2,254.2 530.7,254.5 528.0,256.7 528.8,260.0 525.9,258.2 523.0,260.0 523.8,256.7 521.1,254.5 524.6,254.2" fill="#231f6c"/>
<polygon points="527.0,260.1 528.3,263.3 531.8,263.6 529.1,265.8 529.9,269.1 527.0,267.4 524.1,269.1 524.9,265.8 522.2,263.6 525.7,263.3" fill="#231f6c"/>
<polygon points="527.0,260.1 528.3,263.3 531.8,263.6 529.1,265.8 529.9,269.1 527.0,267.4 524.1,269.1 524.9,265.8 522.2,263.6 525.7,263.3" fill="#231f6c"/>
<polygon points="525.0,232.3 526.3,235.5 529.8,235.8 527.1,238.0 527.9,241.3 525.0,239.6 522.1,241.3 522.9,238.0 520.2,235.8 523.7,235.5" fill="#231f6c"/>
<polygon points="525.0,232.3 526.3,235.5 529.8,235.8 527.1,238.0 527.9,241.3 525.0,239.6 522.1,241.3 522.9,238.0 520.2,235.8 523.7,235.5" fill="#231f6c"/>
<polygon points="553.0,336.0 554.3,339.2 557.8,339.5 555.1,341.7 555.9,345.0 553.0,343.2 550.1,345.0 550.9,341.7 548.2,339.5 551.7,339.2" fill="#231f6c"/>
<polygon points="556.5,336.0 557.8,339.2 561.3,339.5 558.6,341.7 559.4,345.0 556.5,343.2 553.6,345.0 554.4,341.7 551.7,339.5 555.2,339.2" fill="#231f6c"/>
<polygon points="560.0,336.0 561.3,339.2 564.8,339.5 562.1,341.7 562.9,345.0 560.0,343.2 557.1,345.0 557.9,341.7 555.2,339.5 558.7,339.2" fill="#231f6c"/>
<polygon points="552.0,311.6 553.3,314.8 556.8,315.1 554.1,317.3 554.9,320.6 552.0,318.9 549.1,320.6 549.9,317.3 547.2,315.1 550.7,314.8" fill="#231f6c"/>
<polygon points="556.0,311.6 557.3,314.8 560.8,315.1 558.1,317.3 558.9,320.6 556.0,318.9 553.1,320.6 553.9,317.3 551.2,315.1 554.7,314.8" fill="#231f6c"/>
<polygon points="560.0,311.6 561.3,314.8 564.8,315.1 562.1,317.3 562.9,320.6 560.0,318.9 557.1,320.6 557.9,317.3 555.2,315.1 558.7,314.8" fill="#231f6c"/>
<polygon points="552.0,293.5 553.3,296.7 556.8,297.0 554.1,299.2 554.9,302.5 552.0,300.8 549.1,302.5 549.9,299.2 547.2,297.0 550.7,296.7" fill="#231f6c"/>
<polygon points="556.0,293.5 557.3,296.7 560.8,297.0 558.1,299.2 558.9,302.5 556.0,300.8 553.1,302.5 553.9,299.2 551.2,297.0 554.7,296.7" fill="#231f6c"/>
<polygon points="560.0,293.5 561.3,296.7 564.8,297.0 562.1,299.2 562.9,302.5 560.0,300.8 557.1,302.5 557.9,299.2 555.2,297.0 558.7,296.7" fill="#231f6c"/>
<polygon points="553.0,280.2 554.3,283.4 557.8,283.7 555.1,285.9 555.9,289.2 553.0,287.4 550.1,289.2 550.9,285.9 548.2,283.7 551.7,283.4" fill="#231f6c"/>
<polygon points="553.0,280.2 554.3,283.4 557.8,283.7 555.1,285.9 555.9,289.2 553.0,287.4 550.1,289.2 550.9,285.9 548.2,283.7 551.7,283.4" fill="#231f6c"/>
<polygon points="553.0,269.3 554.3,272.5 557.8,272.8 555.1,275.0 555.9,278.3 553.0,276.6 550.1,278.3 550.9,275.0 548.2,272.8 551.7,272.5" fill="#231f6c"/>
<polygon points="553.0,269.3 554.3,272.5 557.8,272.8 555.1,275.0 555.9,278.3 553.0,276.6 550.1,278.3 550.9,275.0 548.2,272.8 551.7,272.5" fill="#231f6c"/>
<polygon points="555.8,377.6 557.1,380.8 560.6,381.1 557.9,383.3 558.7,386.6 555.8,384.9 552.9,386.6 553.7,383.3 551.0,381.1 554.5,380.8" fill="#231f6c"/>
<polygon points="555.8,377.6 557.1,380.8 560.6,381.1 557.9,383.3 558.7,386.6 555.8,384.9 552.9,386.6 553.7,383.3 551.0,381.1 554.5,380.8" fill="#231f6c"/>
<polygon points="555.8,336.1 557.1,339.3 560.6,339.6 557.9,341.8 558.7,345.1 555.8,343.4 552.9,345.1 553.7,341.8 551.0,339.6 554.5,339.3" fill="#231f6c"/>
<polygon points="555.8,336.1 557.1,339.3 560.6,339.6 557.9,341.8 558.7,345.1 555.8,343.4 552.9,345.1 553.7,341.8 551.0,339.6 554.5,339.3" fill="#231f6c"/>
<polygon points="555.8,311.6 557.1,314.8 560.6,315.1 557.9,317.3 558.7,320.6 555.8,318.9 552.9,320.6 553.7,317.3 551.0,315.1 554.5,314.8" fill="#231f6c"/>
<polygon points="555.8,311.6 557.1,314.8 560.6,315.1 557.9,317.3 558.7,320.6 555.8,318.9 552.9,320.6 553.7,317.3 551.0,315.1 554.5,314.8" fill="#231f6c"/>
<polygon points="585.5,311.6 586.8,314.8 590.3,315.1 587.6,317.3 588.4,320.6 585.5,318.9 582.6,320.6 583.4,317.3 580.7,315.1 584.2,314.8" fill="#231f6c"/>
<polygon points="585.5,311.6 586.8,314.8 590.3,315.1 587.6,317.3 588.4,320.6 585.5,318.9 582.6,320.6 583.4,317.3 580.7,315.1 584.2,314.8" fill="#231f6c"/>
<polygon points="583.0,336.1 584.3,339.3 587.8,339.6 585.1,341.8 585.9,345.1 583.0,343.4 580.1,345.1 580.9,341.8 578.2,339.6 581.7,339.3" fill="#231f6c"/>
<polygon points="588.0,336.1 589.3,339.3 592.8,339.6 590.1,341.8 590.9,345.1 588.0,343.4 585.1,345.1 585.9,341.8 583.2,339.6 586.7,339.3" fill="#231f6c"/>
<polygon points="582.0,377.6 583.3,380.8 586.8,381.1 584.1,383.3 584.9,386.6 582.0,384.9 579.1,386.6 579.9,383.3 577.2,381.1 580.7,380.8" fill="#231f6c"/>
<polygon points="585.5,377.6 586.8,380.8 590.3,381.1 587.6,383.3 588.4,386.6 585.5,384.9 582.6,386.6 583.4,383.3 580.7,381.1 584.2,380.8" fill="#231f6c"/>
<polygon points="589.0,377.6 590.3,380.8 593.8,381.1 591.1,383.3 591.9,386.6 589.0,384.9 586.1,386.6 586.9,383.3 584.2,381.1 587.7,380.8" fill="#231f6c"/>
<polygon points="700.2,335.6 701.5,338.8 705.0,339.1 702.3,341.3 703.1,344.6 700.2,342.9 697.3,344.6 698.1,341.3 695.4,339.1 698.9,338.8" fill="#231f6c"/>
<polygon points="700.2,335.6 701.5,338.8 705.0,339.1 702.3,341.3 703.1,344.6 700.2,342.9 697.3,344.6 698.1,341.3 695.4,339.1 698.9,338.8" fill="#231f6c"/>
<polygon points="696.0,377.4 697.3,380.6 700.8,380.9 698.1,383.1 698.9,386.4 696.0,384.6 693.1,386.4 693.9,383.1 691.2,380.9 694.7,380.6" fill="#231f6c"/>
<polygon points="699.7,377.4 701.0,380.6 704.4,380.9 701.8,383.1 702.6,386.4 699.7,384.6 696.7,386.4 697.5,383.1 694.9,380.9 698.3,380.6" fill="#231f6c"/>
<polygon points="703.3,377.4 704.7,380.6 708.1,380.9 705.5,383.1 706.3,386.4 703.3,384.6 700.4,386.4 701.2,383.1 698.6,380.9 702.0,380.6" fill="#231f6c"/>
<polygon points="707.0,377.4 708.3,380.6 711.8,380.9 709.1,383.1 709.9,386.4 707.0,384.6 704.1,386.4 704.9,383.1 702.2,380.9 705.7,380.6" fill="#231f6c"/>
<polygon points="562.7,129.7 567.2,137.5 558.2,137.5" fill="#46aa2e"/>
<polygon points="563.6,138.7 568.1,146.5 559.1,146.5" fill="#46aa2e"/>
<polygon points="564.4,146.3 568.9,154.1 559.9,154.1" fill="#46aa2e"/>
<polygon points="571.1,276.8 576.0,282.0 583.8,297.1 588.9,320.8 599.0,337.7 597.3,347.9 592.2,354.6 595.6,371.6 588.9,364.8 582.1,369.9 579.5,364.8 580.4,341.1 571.9,339.4 565.2,334.3 563.5,303.9 565.2,286.9" fill="#8ccfd5" opacity="1"/>
<polygon points="571.1,272.3 575.6,276.8 571.1,281.3 566.6,276.8" fill="#8ccfd5"/>
<polygon points="576.0,277.5 580.5,282.0 576.0,286.5 571.5,282.0" fill="#8ccfd5"/>
<polygon points="583.8,292.6 588.3,297.1 583.8,301.6 579.3,297.1" fill="#8ccfd5"/>
<polygon points="588.9,316.3 593.4,320.8 588.9,325.3 584.4,320.8" fill="#8ccfd5"/>
<polygon points="599.0,333.2 603.5,337.7 599.0,342.2 594.5,337.7" fill="#8ccfd5"/>
<polygon points="597.3,343.4 601.8,347.9 597.3,352.4 592.8,347.9" fill="#8ccfd5"/>
<polygon points="592.2,350.1 596.7,354.6 592.2,359.1 587.7,354.6" fill="#8ccfd5"/>
<polygon points="595.6,367.1 600.1,371.6 595.6,376.1 591.1,371.6" fill="#8ccfd5"/>
<polygon points="588.9,360.3 593.4,364.8 588.9,369.3 584.4,364.8" fill="#8ccfd5"/>
<polygon points="582.1,365.4 586.6,369.9 582.1,374.4 577.6,369.9" fill="#8ccfd5"/>
<polygon points="579.5,360.3 584.0,364.8 579.5,369.3 575.0,364.8" fill="#8ccfd5"/>
<polygon points="580.4,336.6 584.9,341.1 580.4,345.6 575.9,341.1" fill="#8ccfd5"/>
<polygon points="571.9,334.9 576.4,339.4 571.9,343.9 567.4,339.4" fill="#8ccfd5"/>
<polygon points="565.2,329.8 569.7,334.3 565.2,338.8 560.7,334.3" fill="#8ccfd5"/>
<polygon points="563.5,299.4 568.0,303.9 563.5,308.4 559.0,303.9" fill="#8ccfd5"/>
<polygon points="565.2,282.4 569.7,286.9 565.2,291.4 560.7,286.9" fill="#8ccfd5"/>
<polygon points="568.0,290.5 572.5,295.0 568.0,299.5 563.5,295.0" fill="#8ccfd5"/>
<polygon points="566.0,310.5 570.5,315.0 566.0,319.5 561.5,315.0" fill="#8ccfd5"/>
<polygon points="567.0,325.5 571.5,330.0 567.0,334.5 562.5,330.0" fill="#8ccfd5"/>
<polygon points="585.0,325.5 589.5,330.0 585.0,334.5 580.5,330.0" fill="#8ccfd5"/>
<polygon points="592.0,340.5 596.5,345.0 592.0,349.5 587.5,345.0" fill="#8ccfd5"/>
<polygon points="583.0,350.5 587.5,355.0 583.0,359.5 578.5,355.0" fill="#8ccfd5"/>
<polygon points="598.0,371.5 602.5,376.0 598.0,380.5 593.5,376.0" fill="#8ccfd5"/>
<polygon points="604.0,379.5 608.5,384.0 604.0,388.5 599.5,384.0" fill="#8ccfd5"/>
<circle cx="570.2" cy="282.7" r="4" fill="#8e8a28"/>
<polygon points="605.8,358.0 626.1,356.3 632.9,349.6 646.4,371.6 649.8,408.8 652.0,420.0 646.4,430.0 610.9,430.0" fill="#8ccfd5" opacity="1"/>
<polygon points="605.8,353.5 610.3,358.0 605.8,362.5 601.3,358.0" fill="#8ccfd5"/>
<polygon points="626.1,351.8 630.6,356.3 626.1,360.8 621.6,356.3" fill="#8ccfd5"/>
<polygon points="632.9,345.1 637.4,349.6 632.9,354.1 628.4,349.6" fill="#8ccfd5"/>
<polygon points="646.4,367.1 650.9,371.6 646.4,376.1 641.9,371.6" fill="#8ccfd5"/>
<polygon points="649.8,404.3 654.3,408.8 649.8,413.3 645.3,408.8" fill="#8ccfd5"/>
<polygon points="652.0,415.5 656.5,420.0 652.0,424.5 647.5,420.0" fill="#8ccfd5"/>
<polygon points="646.4,425.5 650.9,430.0 646.4,434.5 641.9,430.0" fill="#8ccfd5"/>
<polygon points="610.9,425.5 615.4,430.0 610.9,434.5 606.4,430.0" fill="#8ccfd5"/>
<polygon points="597.7,234.6 608.3,234.6 611.7,243.4 612.0,259.0 611.0,268.0 607.0,280.0 598.0,268.0 600.0,259.0 594.6,243.4" fill="#2c3993" opacity="1"/>
<polygon points="598.0,240.4 602.2,233.1 593.8,233.1" fill="#2c3993"/>
<polygon points="606.0,240.4 610.2,233.1 601.8,233.1" fill="#2c3993"/>
<polygon points="596.0,248.4 600.2,241.1 591.8,241.1" fill="#2c3993"/>
<polygon points="610.0,250.4 614.2,243.1 605.8,243.1" fill="#2c3993"/>
<polygon points="600.0,260.4 604.2,253.1 595.8,253.1" fill="#2c3993"/>
<polygon points="610.0,266.4 614.2,259.1 605.8,259.1" fill="#2c3993"/>
<polygon points="602.0,272.4 606.2,265.1 597.8,265.1" fill="#2c3993"/>
<polygon points="607.0,280.4 611.2,273.1 602.8,273.1" fill="#2c3993"/>
<polygon points="616.8,274.1 621.0,266.8 612.5,266.8" fill="#2c3993"/>
<polygon points="615.6,280.9 619.9,273.6 611.4,273.6" fill="#2c3993"/>
<polygon points="607.3,290.0 611.5,282.7 603.0,282.7" fill="#2c3993"/>
<polygon points="605.8,277.8 610.0,270.5 601.5,270.5" fill="#2c3993"/>
<polygon points="616.0,281.2 620.2,273.9 611.8,273.9" fill="#2c3993"/>
<polygon points="609.0,281.0 613.0,281.0 617.6,300.0 617.6,325.0 626.1,329.3 631.2,349.6 622.7,349.6 617.6,339.4 606.5,339.4 605.8,300.0" fill="#46aa2e" opacity="1"/>
<polygon points="610.0,280.1 613.8,286.6 606.2,286.6" fill="#46aa2e"/>
<polygon points="608.0,288.1 611.8,294.6 604.2,294.6" fill="#46aa2e"/>
<polygon points="615.0,292.1 618.8,298.6 611.2,298.6" fill="#46aa2e"/>
<polygon points="607.0,301.1 610.8,307.6 603.2,307.6" fill="#46aa2e"/>
<polygon points="616.0,306.1 619.8,312.6 612.2,312.6" fill="#46aa2e"/>
<polygon points="607.0,314.1 610.8,320.6 603.2,320.6" fill="#46aa2e"/>
<polygon points="616.0,318.1 619.8,324.6 612.2,324.6" fill="#46aa2e"/>
<polygon points="608.0,326.1 611.8,332.6 604.2,332.6" fill="#46aa2e"/>
<polygon points="614.0,332.1 617.8,338.6 610.2,338.6" fill="#46aa2e"/>
<polygon points="620.0,328.1 623.8,334.6 616.2,334.6" fill="#46aa2e"/>
<polygon points="626.0,332.1 629.8,338.6 622.2,338.6" fill="#46aa2e"/>
<polygon points="624.0,340.1 627.8,346.6 620.2,346.6" fill="#46aa2e"/>
<polygon points="630.0,343.1 633.8,349.6 626.2,349.6" fill="#46aa2e"/>
<polygon points="632.9,342.8 639.6,342.8 639.6,402.0 632.9,402.0" fill="#46aa2e" opacity="1"/>
<polygon points="636.3,341.6 640.5,348.9 632.0,348.9" fill="#46aa2e"/>
<polygon points="636.3,347.6 640.5,354.9 632.0,354.9" fill="#46aa2e"/>
<polygon points="636.3,353.6 640.5,360.9 632.0,360.9" fill="#46aa2e"/>
<polygon points="636.3,359.6 640.5,366.9 632.0,366.9" fill="#46aa2e"/>
<polygon points="636.3,365.6 640.5,372.9 632.0,372.9" fill="#46aa2e"/>
<polygon points="636.3,371.6 640.5,378.9 632.0,378.9" fill="#46aa2e"/>
<polygon points="636.3,377.6 640.5,384.9 632.0,384.9" fill="#46aa2e"/>
<polygon points="636.3,383.6 640.5,390.9 632.0,390.9" fill="#46aa2e"/>
<polygon points="636.3,389.6 640.5,396.9 632.0,396.9" fill="#46aa2e"/>
<polygon points="636.3,395.6 640.5,402.9 632.0,402.9" fill="#46aa2e"/>
<polygon points="633.7,298.1 638.0,290.8 629.5,290.8" fill="#2c3993"/>
<polygon points="640.0,306.7 644.5,298.9 635.5,298.9" fill="#2c3993"/>
<polygon points="640.0,311.7 644.5,303.9 635.5,303.9" fill="#2c3993"/>
<polygon points="640.0,316.7 644.5,308.9 635.5,308.9" fill="#2c3993"/>
<polygon points="640.0,321.7 644.5,313.9 635.5,313.9" fill="#2c3993"/>
<polygon points="640.0,326.7 644.5,318.9 635.5,318.9" fill="#2c3993"/>
<polygon points="640.0,331.7 644.5,323.9 635.5,323.9" fill="#2c3993"/>
<polygon points="649.0,332.3 653.5,324.5 644.5,324.5" fill="#2c3993"/>
<polygon points="638.0,336.7 642.5,328.9 633.5,328.9" fill="#2c3993"/>
<polygon points="643.0,340.7 647.5,332.9 638.5,332.9" fill="#2c3993"/>
<polygon points="646.0,344.7 650.5,336.9 641.5,336.9" fill="#2c3993"/>
<polygon points="649.8,349.2 654.3,341.4 645.3,341.4" fill="#2c3993"/>
<polygon points="649.8,357.7 654.3,349.9 645.3,349.9" fill="#2c3993"/>
<polygon points="653.2,383.0 657.7,375.2 648.7,375.2" fill="#2c3993"/>
<polygon points="679.4,359.3 683.9,351.5 674.9,351.5" fill="#2c3993"/>
<polygon points="665.0,334.7 669.5,326.9 660.5,326.9" fill="#2c3993"/>
<polygon points="662.0,340.0 667.0,340.0 670.0,356.0 664.0,372.0 660.0,360.0" fill="#2c3993" opacity="1"/>
<polygon points="672.0,358.0 683.0,362.0 683.0,380.0 676.0,372.0" fill="#2c3993" opacity="1"/>
<polygon points="656.0,378.0 662.0,376.0 664.0,404.0 656.0,404.0" fill="#2c3993" opacity="1"/>
<polygon points="676.0,384.0 684.0,384.0 684.0,404.0 674.0,404.0" fill="#2c3993" opacity="1"/>
<polygon points="664.5,338.9 669.2,330.7 659.8,330.7" fill="#2c3993"/>
<polygon points="663.0,345.9 667.8,337.7 658.2,337.7" fill="#2c3993"/>
<polygon points="666.0,352.9 670.8,344.7 661.2,344.7" fill="#2c3993"/>
<polygon points="660.0,360.9 664.8,352.7 655.2,352.7" fill="#2c3993"/>
<polygon points="669.0,359.9 673.8,351.7 664.2,351.7" fill="#2c3993"/>
<polygon points="679.0,360.9 683.8,352.7 674.2,352.7" fill="#2c3993"/>
<polygon points="657.0,368.9 661.8,360.7 652.2,360.7" fill="#2c3993"/>
<polygon points="666.0,370.9 670.8,362.7 661.2,362.7" fill="#2c3993"/>
<polygon points="675.0,367.9 679.8,359.7 670.2,359.7" fill="#2c3993"/>
<polygon points="683.0,370.9 687.8,362.7 678.2,362.7" fill="#2c3993"/>
<polygon points="661.0,377.9 665.8,369.7 656.2,369.7" fill="#2c3993"/>
<polygon points="670.0,380.9 674.8,372.7 665.2,372.7" fill="#2c3993"/>
<polygon points="680.0,378.9 684.8,370.7 675.2,370.7" fill="#2c3993"/>
<polygon points="657.0,386.9 661.8,378.7 652.2,378.7" fill="#2c3993"/>
<polygon points="666.0,389.9 670.8,381.7 661.2,381.7" fill="#2c3993"/>
<polygon points="676.0,387.9 680.8,379.7 671.2,379.7" fill="#2c3993"/>
<polygon points="684.0,390.9 688.8,382.7 679.2,382.7" fill="#2c3993"/>
<polygon points="660.0,396.9 664.8,388.7 655.2,388.7" fill="#2c3993"/>
<polygon points="670.0,399.9 674.8,391.7 665.2,391.7" fill="#2c3993"/>
<polygon points="680.0,397.9 684.8,389.7 675.2,389.7" fill="#2c3993"/>
<polygon points="658.0,405.9 662.8,397.7 653.2,397.7" fill="#2c3993"/>
<polygon points="667.0,408.9 671.8,400.7 662.2,400.7" fill="#2c3993"/>
<polygon points="676.0,406.9 680.8,398.7 671.2,398.7" fill="#2c3993"/>
<polygon points="684.0,406.9 688.8,398.7 679.2,398.7" fill="#2c3993"/>
<polygon points="665.6,419.6 670.4,411.4 660.9,411.4" fill="#2c3993"/>
<polygon points="679.4,419.9 684.4,411.2 674.4,411.2" fill="#2c3993"/>
<polygon points="665.6,430.7 670.4,422.4 660.9,422.4" fill="#2c3993"/>
<polygon points="679.4,430.9 684.4,422.3 674.4,422.3" fill="#2c3993"/>
<polygon points="665.6,444.2 670.4,436.0 660.9,436.0" fill="#2c3993"/>
<polygon points="679.4,444.4 684.4,435.8 674.4,435.8" fill="#2c3993"/>
<polygon points="665.6,461.6 670.4,453.4 660.9,453.4" fill="#2c3993"/>
<polygon points="679.4,461.9 684.4,453.2 674.4,453.2" fill="#2c3993"/>
<polygon points="665.6,486.2 670.4,478.0 660.9,478.0" fill="#2c3993"/>
<polygon points="679.4,486.5 684.4,477.8 674.4,477.8" fill="#2c3993"/>
<polygon points="672.5,461.6 677.2,453.4 667.8,453.4" fill="#2c3993"/>
<polygon points="679.4,526.0 683.9,518.2 674.9,518.2" fill="#2c3993"/>
<polygon points="595.6,369.9 610.9,369.9 610.9,402.0 595.6,402.0" fill="#8e8a28" opacity="1"/>
<circle cx="605.0" cy="362.8" r="4" fill="#8e8a28"/>
<circle cx="597.0" cy="374.0" r="4.2" fill="#8e8a28"/>
<circle cx="609.0" cy="378.0" r="4.2" fill="#8e8a28"/>
<circle cx="597.0" cy="384.0" r="4.2" fill="#8e8a28"/>
<circle cx="611.0" cy="392.0" r="4.2" fill="#8e8a28"/>
<circle cx="597.0" cy="396.0" r="4.2" fill="#8e8a28"/>
<polygon points="596.0,384.8 612.0,384.8 612.0,393.4 596.0,393.4" fill="#8e8a28" opacity="1"/>
<circle cx="596.0" cy="389.1" r="4.3" fill="#8e8a28"/>
<circle cx="604.0" cy="389.1" r="4.3" fill="#8e8a28"/>
<circle cx="612.0" cy="389.1" r="4.3" fill="#8e8a28"/>
<polygon points="596.0,391.9 612.0,391.9 612.0,400.5 596.0,400.5" fill="#8e8a28" opacity="1"/>
<circle cx="596.0" cy="396.2" r="4.3" fill="#8e8a28"/>
<circle cx="604.0" cy="396.2" r="4.3" fill="#8e8a28"/>
<circle cx="612.0" cy="396.2" r="4.3" fill="#8e8a28"/>
<polygon points="596.0,400.0 612.0,400.0 612.0,408.6 596.0,408.6" fill="#8e8a28" opacity="1"/>
<circle cx="596.0" cy="404.3" r="4.3" fill="#8e8a28"/>
<circle cx="604.0" cy="404.3" r="4.3" fill="#8e8a28"/>
<circle cx="612.0" cy="404.3" r="4.3" fill="#8e8a28"/>
<polygon points="627.0,400.0 640.0,400.0 640.0,408.6 627.0,408.6" fill="#8e8a28" opacity="1"/>
<circle cx="627.0" cy="404.3" r="4.3" fill="#8e8a28"/>
<circle cx="633.5" cy="404.3" r="4.3" fill="#8e8a28"/>
<circle cx="640.0" cy="404.3" r="4.3" fill="#8e8a28"/>
<polygon points="627.0,409.4 640.0,409.4 640.0,418.0 627.0,418.0" fill="#8e8a28" opacity="1"/>
<circle cx="627.0" cy="413.7" r="4.3" fill="#8e8a28"/>
<circle cx="633.5" cy="413.7" r="4.3" fill="#8e8a28"/>
<circle cx="640.0" cy="413.7" r="4.3" fill="#8e8a28"/>
<polygon points="598.5,409.3 647.5,409.3 647.5,418.1 598.5,418.1" fill="#8e8a28" opacity="1"/>
<circle cx="598.5" cy="413.7" r="4.4" fill="#8e8a28"/>
<circle cx="604.6" cy="413.7" r="4.4" fill="#8e8a28"/>
<circle cx="610.8" cy="413.7" r="4.4" fill="#8e8a28"/>
<circle cx="616.9" cy="413.7" r="4.4" fill="#8e8a28"/>
<circle cx="623.0" cy="413.7" r="4.4" fill="#8e8a28"/>
<circle cx="629.1" cy="413.7" r="4.4" fill="#8e8a28"/>
<circle cx="635.2" cy="413.7" r="4.4" fill="#8e8a28"/>
<circle cx="641.4" cy="413.7" r="4.4" fill="#8e8a28"/>
<circle cx="647.5" cy="413.7" r="4.4" fill="#8e8a28"/>
<circle cx="658.4" cy="413.7" r="4.3" fill="#8e8a28"/>
<polygon points="598.5,420.3 647.5,420.3 647.5,429.1 598.5,429.1" fill="#8e8a28" opacity="1"/>
<circle cx="598.5" cy="424.7" r="4.4" fill="#8e8a28"/>
<circle cx="604.6" cy="424.7" r="4.4" fill="#8e8a28"/>
<circle cx="610.8" cy="424.7" r="4.4" fill="#8e8a28"/>
<circle cx="616.9" cy="424.7" r="4.4" fill="#8e8a28"/>
<circle cx="623.0" cy="424.7" r="4.4" fill="#8e8a28"/>
<circle cx="629.1" cy="424.7" r="4.4" fill="#8e8a28"/>
<circle cx="635.2" cy="424.7" r="4.4" fill="#8e8a28"/>
<circle cx="641.4" cy="424.7" r="4.4" fill="#8e8a28"/>
<circle cx="647.5" cy="424.7" r="4.4" fill="#8e8a28"/>
<circle cx="658.4" cy="424.7" r="4.3" fill="#8e8a28"/>
<polygon points="598.5,433.9 647.5,433.9 647.5,442.7 598.5,442.7" fill="#8e8a28" opacity="1"/>
<circle cx="598.5" cy="438.3" r="4.4" fill="#8e8a28"/>
<circle cx="604.6" cy="438.3" r="4.4" fill="#8e8a28"/>
<circle cx="610.8" cy="438.3" r="4.4" fill="#8e8a28"/>
<circle cx="616.9" cy="438.3" r="4.4" fill="#8e8a28"/>
<circle cx="623.0" cy="438.3" r="4.4" fill="#8e8a28"/>
<circle cx="629.1" cy="438.3" r="4.4" fill="#8e8a28"/>
<circle cx="635.2" cy="438.3" r="4.4" fill="#8e8a28"/>
<circle cx="641.4" cy="438.3" r="4.4" fill="#8e8a28"/>
<circle cx="647.5" cy="438.3" r="4.4" fill="#8e8a28"/>
<circle cx="658.4" cy="438.3" r="4.3" fill="#8e8a28"/>
<polygon points="598.5,451.3 647.5,451.3 647.5,460.1 598.5,460.1" fill="#8e8a28" opacity="1"/>
<circle cx="598.5" cy="455.7" r="4.4" fill="#8e8a28"/>
<circle cx="604.6" cy="455.7" r="4.4" fill="#8e8a28"/>
<circle cx="610.8" cy="455.7" r="4.4" fill="#8e8a28"/>
<circle cx="616.9" cy="455.7" r="4.4" fill="#8e8a28"/>
<circle cx="623.0" cy="455.7" r="4.4" fill="#8e8a28"/>
<circle cx="629.1" cy="455.7" r="4.4" fill="#8e8a28"/>
<circle cx="635.2" cy="455.7" r="4.4" fill="#8e8a28"/>
<circle cx="641.4" cy="455.7" r="4.4" fill="#8e8a28"/>
<circle cx="647.5" cy="455.7" r="4.4" fill="#8e8a28"/>
<circle cx="658.4" cy="455.7" r="4.3" fill="#8e8a28"/>
<polygon points="598.5,475.9 647.5,475.9 647.5,484.7 598.5,484.7" fill="#8e8a28" opacity="1"/>
<circle cx="598.5" cy="480.3" r="4.4" fill="#8e8a28"/>
<circle cx="604.6" cy="480.3" r="4.4" fill="#8e8a28"/>
<circle cx="610.8" cy="480.3" r="4.4" fill="#8e8a28"/>
<circle cx="616.9" cy="480.3" r="4.4" fill="#8e8a28"/>
<circle cx="623.0" cy="480.3" r="4.4" fill="#8e8a28"/>
<circle cx="629.1" cy="480.3" r="4.4" fill="#8e8a28"/>
<circle cx="635.2" cy="480.3" r="4.4" fill="#8e8a28"/>
<circle cx="641.4" cy="480.3" r="4.4" fill="#8e8a28"/>
<circle cx="647.5" cy="480.3" r="4.4" fill="#8e8a28"/>
<circle cx="658.4" cy="480.3" r="4.3" fill="#8e8a28"/>
<polygon points="598.5,517.9 647.5,517.9 647.5,526.7 598.5,526.7" fill="#8e8a28" opacity="1"/>
<circle cx="598.5" cy="522.3" r="4.4" fill="#8e8a28"/>
<circle cx="604.6" cy="522.3" r="4.4" fill="#8e8a28"/>
<circle cx="610.8" cy="522.3" r="4.4" fill="#8e8a28"/>
<circle cx="616.9" cy="522.3" r="4.4" fill="#8e8a28"/>
<circle cx="623.0" cy="522.3" r="4.4" fill="#8e8a28"/>
<circle cx="629.1" cy="522.3" r="4.4" fill="#8e8a28"/>
<circle cx="635.2" cy="522.3" r="4.4" fill="#8e8a28"/>
<circle cx="641.4" cy="522.3" r="4.4" fill="#8e8a28"/>
<circle cx="647.5" cy="522.3" r="4.4" fill="#8e8a28"/>
<circle cx="658.4" cy="522.3" r="4.3" fill="#8e8a28"/>
<rect x="560.9" y="421.3" width="6.8" height="6.8" fill="#1a1a1a"/>
<rect x="560.9" y="452.3" width="6.8" height="6.8" fill="#1a1a1a"/>
<rect x="560.9" y="476.9" width="6.8" height="6.8" fill="#1a1a1a"/>
<polygon points="585.5,311.6 586.8,314.8 590.3,315.1 587.6,317.3 588.4,320.6 585.5,318.9 582.6,320.6 583.4,317.3 580.7,315.1 584.2,314.8" fill="#231f6c"/>
<polygon points="582.0,336.1 583.3,339.3 586.8,339.6 584.1,341.8 584.9,345.1 582.0,343.4 579.1,345.1 579.9,341.8 577.2,339.6 580.7,339.3" fill="#231f6c"/>
<polygon points="585.5,336.1 586.8,339.3 590.3,339.6 587.6,341.8 588.4,345.1 585.5,343.4 582.6,345.1 583.4,341.8 580.7,339.6 584.2,339.3" fill="#231f6c"/>
<polygon points="589.0,336.1 590.3,339.3 593.8,339.6 591.1,341.8 591.9,345.1 589.0,343.4 586.1,345.1 586.9,341.8 584.2,339.6 587.7,339.3" fill="#231f6c"/>
<polygon points="581.0,377.6 582.3,380.8 585.8,381.1 583.1,383.3 583.9,386.6 581.0,384.9 578.1,386.6 578.9,383.3 576.2,381.1 579.7,380.8" fill="#231f6c"/>
<polygon points="585.5,377.6 586.8,380.8 590.3,381.1 587.6,383.3 588.4,386.6 585.5,384.9 582.6,386.6 583.4,383.3 580.7,381.1 584.2,380.8" fill="#231f6c"/>
<polygon points="590.0,377.6 591.3,380.8 594.8,381.1 592.1,383.3 592.9,386.6 590.0,384.9 587.1,386.6 587.9,383.3 585.2,381.1 588.7,380.8" fill="#231f6c"/>
<line x1="122.2" y1="522.3" x2="132.2" y2="522.3" stroke="#1b1b1b" stroke-width="2" />
<line x1="762.7" y1="522.3" x2="773.7" y2="522.3" stroke="#1b1b1b" stroke-width="2" />
<line x1="126.7" y1="480.3" x2="132.2" y2="480.3" stroke="#1b1b1b" stroke-width="2" />
<line x1="767.2" y1="480.3" x2="773.7" y2="480.3" stroke="#1b1b1b" stroke-width="2" />
<line x1="126.7" y1="455.7" x2="132.2" y2="455.7" stroke="#1b1b1b" stroke-width="2" />
<line x1="767.2" y1="455.7" x2="773.7" y2="455.7" stroke="#1b1b1b" stroke-width="2" />
<line x1="126.7" y1="438.3" x2="132.2" y2="438.3" stroke="#1b1b1b" stroke-width="2" />
<line x1="767.2" y1="438.3" x2="773.7" y2="438.3" stroke="#1b1b1b" stroke-width="2" />
<line x1="126.7" y1="424.7" x2="132.2" y2="424.7" stroke="#1b1b1b" stroke-width="2" />
<line x1="767.2" y1="424.7" x2="773.7" y2="424.7" stroke="#1b1b1b" stroke-width="2" />
<line x1="126.7" y1="413.7" x2="132.2" y2="413.7" stroke="#1b1b1b" stroke-width="2" />
<line x1="767.2" y1="413.7" x2="773.7" y2="413.7" stroke="#1b1b1b" stroke-width="2" />
<line x1="126.7" y1="404.3" x2="132.2" y2="404.3" stroke="#1b1b1b" stroke-width="2" />
<line x1="767.2" y1="404.3" x2="773.7" y2="404.3" stroke="#1b1b1b" stroke-width="2" />
<line x1="126.7" y1="396.2" x2="132.2" y2="396.2" stroke="#1b1b1b" stroke-width="2" />
<line x1="767.2" y1="396.2" x2="773.7" y2="396.2" stroke="#1b1b1b" stroke-width="2" />
<line x1="126.7" y1="389.1" x2="132.2" y2="389.1" stroke="#1b1b1b" stroke-width="2" />
<line x1="767.2" y1="389.1" x2="773.7" y2="389.1" stroke="#1b1b1b" stroke-width="2" />
<line x1="122.2" y1="382.7" x2="132.2" y2="382.7" stroke="#1b1b1b" stroke-width="2" />
<line x1="762.7" y1="382.7" x2="773.7" y2="382.7" stroke="#1b1b1b" stroke-width="2" />
<line x1="126.7" y1="340.7" x2="132.2" y2="340.7" stroke="#1b1b1b" stroke-width="2" />
<line x1="767.2" y1="340.7" x2="773.7" y2="340.7" stroke="#1b1b1b" stroke-width="2" />
<line x1="126.7" y1="316.1" x2="132.2" y2="316.1" stroke="#1b1b1b" stroke-width="2" />
<line x1="767.2" y1="316.1" x2="773.7" y2="316.1" stroke="#1b1b1b" stroke-width="2" />
<line x1="126.7" y1="298.7" x2="132.2" y2="298.7" stroke="#1b1b1b" stroke-width="2" />
<line x1="767.2" y1="298.7" x2="773.7" y2="298.7" stroke="#1b1b1b" stroke-width="2" />
<line x1="126.7" y1="285.1" x2="132.2" y2="285.1" stroke="#1b1b1b" stroke-width="2" />
<line x1="767.2" y1="285.1" x2="773.7" y2="285.1" stroke="#1b1b1b" stroke-width="2" />
<line x1="126.7" y1="274.1" x2="132.2" y2="274.1" stroke="#1b1b1b" stroke-width="2" />
<line x1="767.2" y1="274.1" x2="773.7" y2="274.1" stroke="#1b1b1b" stroke-width="2" />
<line x1="126.7" y1="264.7" x2="132.2" y2="264.7" stroke="#1b1b1b" stroke-width="2" />
<line x1="767.2" y1="264.7" x2="773.7" y2="264.7" stroke="#1b1b1b" stroke-width="2" />
<line x1="126.7" y1="256.6" x2="132.2" y2="256.6" stroke="#1b1b1b" stroke-width="2" />
<line x1="767.2" y1="256.6" x2="773.7" y2="256.6" stroke="#1b1b1b" stroke-width="2" />
<line x1="126.7" y1="249.5" x2="132.2" y2="249.5" stroke="#1b1b1b" stroke-width="2" />
<line x1="767.2" y1="249.5" x2="773.7" y2="249.5" stroke="#1b1b1b" stroke-width="2" />
<line x1="122.2" y1="243.1" x2="132.2" y2="243.1" stroke="#1b1b1b" stroke-width="2" />
<line x1="762.7" y1="243.1" x2="773.7" y2="243.1" stroke="#1b1b1b" stroke-width="2" />
<line x1="126.7" y1="201.1" x2="132.2" y2="201.1" stroke="#1b1b1b" stroke-width="2" />
<line x1="767.2" y1="201.1" x2="773.7" y2="201.1" stroke="#1b1b1b" stroke-width="2" />
<line x1="126.7" y1="176.5" x2="132.2" y2="176.5" stroke="#1b1b1b" stroke-width="2" />
<line x1="767.2" y1="176.5" x2="773.7" y2="176.5" stroke="#1b1b1b" stroke-width="2" />
<line x1="126.7" y1="159.1" x2="132.2" y2="159.1" stroke="#1b1b1b" stroke-width="2" />
<line x1="767.2" y1="159.1" x2="773.7" y2="159.1" stroke="#1b1b1b" stroke-width="2" />
<line x1="126.7" y1="145.5" x2="132.2" y2="145.5" stroke="#1b1b1b" stroke-width="2" />
<line x1="767.2" y1="145.5" x2="773.7" y2="145.5" stroke="#1b1b1b" stroke-width="2" />
<line x1="126.7" y1="134.5" x2="132.2" y2="134.5" stroke="#1b1b1b" stroke-width="2" />
<line x1="767.2" y1="134.5" x2="773.7" y2="134.5" stroke="#1b1b1b" stroke-width="2" />
<line x1="126.7" y1="125.1" x2="132.2" y2="125.1" stroke="#1b1b1b" stroke-width="2" />
<line x1="767.2" y1="125.1" x2="773.7" y2="125.1" stroke="#1b1b1b" stroke-width="2" />
<line x1="126.7" y1="117.0" x2="132.2" y2="117.0" stroke="#1b1b1b" stroke-width="2" />
<line x1="767.2" y1="117.0" x2="773.7" y2="117.0" stroke="#1b1b1b" stroke-width="2" />
<line x1="126.7" y1="109.9" x2="132.2" y2="109.9" stroke="#1b1b1b" stroke-width="2" />
<line x1="767.2" y1="109.9" x2="773.7" y2="109.9" stroke="#1b1b1b" stroke-width="2" />
<line x1="122.2" y1="103.5" x2="132.2" y2="103.5" stroke="#1b1b1b" stroke-width="2" />
<line x1="762.7" y1="103.5" x2="773.7" y2="103.5" stroke="#1b1b1b" stroke-width="2" />
<line x1="126.7" y1="61.5" x2="132.2" y2="61.5" stroke="#1b1b1b" stroke-width="2" />
<line x1="767.2" y1="61.5" x2="773.7" y2="61.5" stroke="#1b1b1b" stroke-width="2" />
<line x1="126.7" y1="36.9" x2="132.2" y2="36.9" stroke="#1b1b1b" stroke-width="2" />
<line x1="767.2" y1="36.9" x2="773.7" y2="36.9" stroke="#1b1b1b" stroke-width="2" />
<line x1="126.7" y1="19.5" x2="132.2" y2="19.5" stroke="#1b1b1b" stroke-width="2" />
<line x1="767.2" y1="19.5" x2="773.7" y2="19.5" stroke="#1b1b1b" stroke-width="2" />
<line x1="126.7" y1="5.9" x2="132.2" y2="5.9" stroke="#1b1b1b" stroke-width="2" />
<line x1="767.2" y1="5.9" x2="773.7" y2="5.9" stroke="#1b1b1b" stroke-width="2" />
<line x1="132.2" y1="522.3" x2="132.2" y2="532.3" stroke="#1b1b1b" stroke-width="2" />
<line x1="132.2" y1="6.0" x2="132.2" y2="16.0" stroke="#1b1b1b" stroke-width="2" />
<line x1="164.3" y1="522.3" x2="164.3" y2="527.3" stroke="#1b1b1b" stroke-width="2" />
<line x1="164.3" y1="6.0" x2="164.3" y2="11.5" stroke="#1b1b1b" stroke-width="2" />
<line x1="196.3" y1="522.3" x2="196.3" y2="532.3" stroke="#1b1b1b" stroke-width="2" />
<line x1="196.3" y1="6.0" x2="196.3" y2="16.0" stroke="#1b1b1b" stroke-width="2" />
<line x1="228.4" y1="522.3" x2="228.4" y2="527.3" stroke="#1b1b1b" stroke-width="2" />
<line x1="228.4" y1="6.0" x2="228.4" y2="11.5" stroke="#1b1b1b" stroke-width="2" />
<line x1="260.5" y1="522.3" x2="260.5" y2="532.3" stroke="#1b1b1b" stroke-width="2" />
<line x1="260.5" y1="6.0" x2="260.5" y2="16.0" stroke="#1b1b1b" stroke-width="2" />
<line x1="292.6" y1="522.3" x2="292.6" y2="527.3" stroke="#1b1b1b" stroke-width="2" />
<line x1="292.6" y1="6.0" x2="292.6" y2="11.5" stroke="#1b1b1b" stroke-width="2" />
<line x1="324.6" y1="522.3" x2="324.6" y2="532.3" stroke="#1b1b1b" stroke-width="2" />
<line x1="324.6" y1="6.0" x2="324.6" y2="16.0" stroke="#1b1b1b" stroke-width="2" />
<line x1="356.7" y1="522.3" x2="356.7" y2="527.3" stroke="#1b1b1b" stroke-width="2" />
<line x1="356.7" y1="6.0" x2="356.7" y2="11.5" stroke="#1b1b1b" stroke-width="2" />
<line x1="388.8" y1="522.3" x2="388.8" y2="532.3" stroke="#1b1b1b" stroke-width="2" />
<line x1="388.8" y1="6.0" x2="388.8" y2="16.0" stroke="#1b1b1b" stroke-width="2" />
<line x1="420.9" y1="522.3" x2="420.9" y2="527.3" stroke="#1b1b1b" stroke-width="2" />
<line x1="420.9" y1="6.0" x2="420.9" y2="11.5" stroke="#1b1b1b" stroke-width="2" />
<line x1="452.9" y1="522.3" x2="452.9" y2="532.3" stroke="#1b1b1b" stroke-width="2" />
<line x1="452.9" y1="6.0" x2="452.9" y2="16.0" stroke="#1b1b1b" stroke-width="2" />
<line x1="485.0" y1="522.3" x2="485.0" y2="527.3" stroke="#1b1b1b" stroke-width="2" />
<line x1="485.0" y1="6.0" x2="485.0" y2="11.5" stroke="#1b1b1b" stroke-width="2" />
<line x1="517.1" y1="522.3" x2="517.1" y2="532.3" stroke="#1b1b1b" stroke-width="2" />
<line x1="517.1" y1="6.0" x2="517.1" y2="16.0" stroke="#1b1b1b" stroke-width="2" />
<line x1="549.2" y1="522.3" x2="549.2" y2="527.3" stroke="#1b1b1b" stroke-width="2" />
<line x1="549.2" y1="6.0" x2="549.2" y2="11.5" stroke="#1b1b1b" stroke-width="2" />
<line x1="581.2" y1="522.3" x2="581.2" y2="532.3" stroke="#1b1b1b" stroke-width="2" />
<line x1="581.2" y1="6.0" x2="581.2" y2="16.0" stroke="#1b1b1b" stroke-width="2" />
<line x1="613.3" y1="522.3" x2="613.3" y2="527.3" stroke="#1b1b1b" stroke-width="2" />
<line x1="613.3" y1="6.0" x2="613.3" y2="11.5" stroke="#1b1b1b" stroke-width="2" />
<line x1="645.4" y1="522.3" x2="645.4" y2="532.3" stroke="#1b1b1b" stroke-width="2" />
<line x1="645.4" y1="6.0" x2="645.4" y2="16.0" stroke="#1b1b1b" stroke-width="2" />
<line x1="677.5" y1="522.3" x2="677.5" y2="527.3" stroke="#1b1b1b" stroke-width="2" />
<line x1="677.5" y1="6.0" x2="677.5" y2="11.5" stroke="#1b1b1b" stroke-width="2" />
<line x1="709.5" y1="522.3" x2="709.5" y2="532.3" stroke="#1b1b1b" stroke-width="2" />
<line x1="709.5" y1="6.0" x2="709.5" y2="16.0" stroke="#1b1b1b" stroke-width="2" />
<line x1="741.6" y1="522.3" x2="741.6" y2="527.3" stroke="#1b1b1b" stroke-width="2" />
<line x1="741.6" y1="6.0" x2="741.6" y2="11.5" stroke="#1b1b1b" stroke-width="2" />
<line x1="773.7" y1="522.3" x2="773.7" y2="532.3" stroke="#1b1b1b" stroke-width="2" />
<line x1="773.7" y1="6.0" x2="773.7" y2="16.0" stroke="#1b1b1b" stroke-width="2" />
<rect x="132.2" y="6.0" width="641.5" height="516.3" fill="none" stroke="#1b1b1b" stroke-width="2.2"/>
<text x="123.50" y="562.30" font-size="33" font-weight="normal" font-style="normal">0</text>
<rect x="196.55" y="539.20" width="3.00" height="23.10" fill="#1b1b1b"/><polygon points="196.95,539.20 189.25,545.48 189.40,546.55 190.05,547.17 196.95,543.82" fill="#1b1b1b"/>
<text x="251.30" y="562.30" font-size="33" font-weight="normal" font-style="normal">2</text>
<text x="315.95" y="562.30" font-size="33" font-weight="normal" font-style="normal">3</text>
<text x="380.10" y="562.30" font-size="33" font-weight="normal" font-style="normal">4</text>
<text x="443.75" y="562.30" font-size="33" font-weight="normal" font-style="normal">5</text>
<text x="507.90" y="562.30" font-size="33" font-weight="normal" font-style="normal">6</text>
<text x="572.05" y="562.30" font-size="33" font-weight="normal" font-style="normal">7</text>
<text x="636.70" y="562.30" font-size="33" font-weight="normal" font-style="normal">8</text>
<text x="700.35" y="562.30" font-size="33" font-weight="normal" font-style="normal">9</text>
<rect x="765.20" y="539.20" width="3.00" height="23.10" fill="#1b1b1b"/><polygon points="765.60,539.20 759.50,545.48 759.65,546.55 760.30,547.17 765.60,543.82" fill="#1b1b1b"/>
<text x="773.54" y="562.30" font-size="33" font-weight="normal" font-style="normal" textLength="17.67" lengthAdjust="spacingAndGlyphs" >0</text>
<rect x="82.10" y="510.10" width="3.00" height="23.30" fill="#1b1b1b"/><polygon points="82.50,510.10 76.00,516.44 76.15,517.51 76.80,518.14 82.50,514.76" fill="#1b1b1b"/>
<text x="89.34" y="533.40" font-size="33" font-weight="normal" font-style="normal" textLength="17.67" lengthAdjust="spacingAndGlyphs" >0</text>
<text x="104.80" y="517.40" font-size="17.6" font-weight="normal" font-style="normal" textLength="11.76" lengthAdjust="spacingAndGlyphs" >2</text>
<rect x="82.10" y="370.50" width="3.00" height="23.30" fill="#1b1b1b"/><polygon points="82.50,370.50 76.00,376.84 76.15,377.91 76.80,378.54 82.50,375.16" fill="#1b1b1b"/>
<text x="89.34" y="393.80" font-size="33" font-weight="normal" font-style="normal" textLength="17.67" lengthAdjust="spacingAndGlyphs" >0</text>
<text x="104.80" y="377.80" font-size="17.6" font-weight="normal" font-style="normal" textLength="11.76" lengthAdjust="spacingAndGlyphs" >3</text>
<rect x="82.10" y="230.90" width="3.00" height="23.30" fill="#1b1b1b"/><polygon points="82.50,230.90 76.00,237.24 76.15,238.31 76.80,238.94 82.50,235.56" fill="#1b1b1b"/>
<text x="89.34" y="254.20" font-size="33" font-weight="normal" font-style="normal" textLength="17.67" lengthAdjust="spacingAndGlyphs" >0</text>
<text x="106.00" y="238.20" font-size="17.6" font-weight="normal" font-style="normal" textLength="10.45" lengthAdjust="spacingAndGlyphs" >4</text>
<rect x="82.10" y="91.30" width="3.00" height="23.30" fill="#1b1b1b"/><polygon points="82.50,91.30 76.00,97.64 76.15,98.71 76.80,99.34 82.50,95.96" fill="#1b1b1b"/>
<text x="89.34" y="114.60" font-size="33" font-weight="normal" font-style="normal" textLength="17.67" lengthAdjust="spacingAndGlyphs" >0</text>
<text x="104.80" y="98.60" font-size="17.6" font-weight="normal" font-style="normal" textLength="11.76" lengthAdjust="spacingAndGlyphs" >5</text>
<text x="266.55" y="607.20" font-size="32" font-weight="normal" font-style="normal" textLength="323.34" lengthAdjust="spacingAndGlyphs" >Normalized conductance</text>
<text x="597.47" y="607.20" font-size="32" font-weight="normal" font-style="normal" textLength="9.72" lengthAdjust="spacingAndGlyphs" >(</text>
<text x="606.32" y="607.20" font-size="32" font-weight="normal" font-style="italic" textLength="55.26" lengthAdjust="spacingAndGlyphs" >G/G</text>
<text x="659.77" y="618.20" font-size="21" font-weight="normal" font-style="normal" textLength="10.87" lengthAdjust="spacingAndGlyphs" >0</text>
<text x="669.74" y="607.20" font-size="32" font-weight="normal" font-style="normal" textLength="12.39" lengthAdjust="spacingAndGlyphs" >)</text>
<g transform="translate(54.2,421.9) rotate(-90)">
<text x="-2.67" y="0.00" font-size="33" font-weight="normal" font-style="normal" textLength="318.64" lengthAdjust="spacingAndGlyphs" >Photon counts (photon s</text>
<text x="314.79" y="-16.90" font-size="19.5" font-weight="normal" font-style="normal" textLength="20.23" lengthAdjust="spacingAndGlyphs" >−1</text>
<text x="337.35" y="0.00" font-size="33" font-weight="normal" font-style="normal" textLength="10.45" lengthAdjust="spacingAndGlyphs" >)</text>
</g>
<text x="5.27" y="33.60" font-size="42" font-weight="bold" font-style="normal" textLength="31.21" lengthAdjust="spacingAndGlyphs" >A</text>
<line x1="127.7" y1="1204.8" x2="770.2" y2="1204.8" stroke="#f0f0f0" stroke-width="1.2" />
<line x1="127.7" y1="1182.0" x2="770.2" y2="1182.0" stroke="#f0f0f0" stroke-width="1.2" />
<line x1="127.7" y1="1165.8" x2="770.2" y2="1165.8" stroke="#f0f0f0" stroke-width="1.2" />
<line x1="127.7" y1="1153.2" x2="770.2" y2="1153.2" stroke="#f0f0f0" stroke-width="1.2" />
<line x1="127.7" y1="1143.0" x2="770.2" y2="1143.0" stroke="#f0f0f0" stroke-width="1.2" />
<line x1="127.7" y1="1134.3" x2="770.2" y2="1134.3" stroke="#f0f0f0" stroke-width="1.2" />
<line x1="127.7" y1="1126.8" x2="770.2" y2="1126.8" stroke="#f0f0f0" stroke-width="1.2" />
<line x1="127.7" y1="1120.2" x2="770.2" y2="1120.2" stroke="#f0f0f0" stroke-width="1.2" />
<line x1="127.7" y1="1075.2" x2="770.2" y2="1075.2" stroke="#f0f0f0" stroke-width="1.2" />
<line x1="127.7" y1="1052.4" x2="770.2" y2="1052.4" stroke="#f0f0f0" stroke-width="1.2" />
<line x1="127.7" y1="1036.2" x2="770.2" y2="1036.2" stroke="#f0f0f0" stroke-width="1.2" />
<line x1="127.7" y1="1023.7" x2="770.2" y2="1023.7" stroke="#f0f0f0" stroke-width="1.2" />
<line x1="127.7" y1="1013.4" x2="770.2" y2="1013.4" stroke="#f0f0f0" stroke-width="1.2" />
<line x1="127.7" y1="1004.7" x2="770.2" y2="1004.7" stroke="#f0f0f0" stroke-width="1.2" />
<line x1="127.7" y1="997.2" x2="770.2" y2="997.2" stroke="#f0f0f0" stroke-width="1.2" />
<line x1="127.7" y1="990.6" x2="770.2" y2="990.6" stroke="#f0f0f0" stroke-width="1.2" />
<line x1="127.7" y1="945.6" x2="770.2" y2="945.6" stroke="#f0f0f0" stroke-width="1.2" />
<line x1="127.7" y1="922.8" x2="770.2" y2="922.8" stroke="#f0f0f0" stroke-width="1.2" />
<line x1="127.7" y1="906.6" x2="770.2" y2="906.6" stroke="#f0f0f0" stroke-width="1.2" />
<line x1="127.7" y1="894.1" x2="770.2" y2="894.1" stroke="#f0f0f0" stroke-width="1.2" />
<line x1="127.7" y1="883.8" x2="770.2" y2="883.8" stroke="#f0f0f0" stroke-width="1.2" />
<line x1="127.7" y1="875.1" x2="770.2" y2="875.1" stroke="#f0f0f0" stroke-width="1.2" />
<line x1="127.7" y1="867.6" x2="770.2" y2="867.6" stroke="#f0f0f0" stroke-width="1.2" />
<line x1="127.7" y1="861.0" x2="770.2" y2="861.0" stroke="#f0f0f0" stroke-width="1.2" />
<line x1="127.7" y1="816.1" x2="770.2" y2="816.1" stroke="#f0f0f0" stroke-width="1.2" />
<line x1="127.7" y1="793.3" x2="770.2" y2="793.3" stroke="#f0f0f0" stroke-width="1.2" />
<line x1="127.7" y1="777.1" x2="770.2" y2="777.1" stroke="#f0f0f0" stroke-width="1.2" />
<line x1="127.7" y1="764.5" x2="770.2" y2="764.5" stroke="#f0f0f0" stroke-width="1.2" />
<line x1="127.7" y1="754.2" x2="770.2" y2="754.2" stroke="#f0f0f0" stroke-width="1.2" />
<line x1="127.7" y1="745.6" x2="770.2" y2="745.6" stroke="#f0f0f0" stroke-width="1.2" />
<line x1="127.7" y1="738.1" x2="770.2" y2="738.1" stroke="#f0f0f0" stroke-width="1.2" />
<line x1="127.7" y1="731.4" x2="770.2" y2="731.4" stroke="#f0f0f0" stroke-width="1.2" />
<line x1="127.7" y1="1114.2" x2="770.2" y2="1114.2" stroke="#c8c8c8" stroke-width="1.5" />
<line x1="127.7" y1="984.6" x2="770.2" y2="984.6" stroke="#c8c8c8" stroke-width="1.5" />
<line x1="127.7" y1="855.1" x2="770.2" y2="855.1" stroke="#c8c8c8" stroke-width="1.5" />
<line x1="172.3" y1="725.5" x2="172.3" y2="1243.8" stroke="#6cb44c" stroke-width="2.2" />
<line x1="321.7" y1="725.5" x2="321.7" y2="1243.8" stroke="#6cb44c" stroke-width="2.2" />
<line x1="471.1" y1="725.5" x2="471.1" y2="1243.8" stroke="#6cb44c" stroke-width="2.2" />
<line x1="620.5" y1="725.5" x2="620.5" y2="1243.8" stroke="#6cb44c" stroke-width="2.2" />
<line x1="108.7" y1="1243.8" x2="127.7" y2="1243.8" stroke="#1b1b1b" stroke-width="2" />
<line x1="756.2" y1="1243.8" x2="770.2" y2="1243.8" stroke="#1b1b1b" stroke-width="2" />
<line x1="119.0" y1="1204.8" x2="127.7" y2="1204.8" stroke="#1b1b1b" stroke-width="2" />
<line x1="764.2" y1="1204.8" x2="770.2" y2="1204.8" stroke="#1b1b1b" stroke-width="2" />
<line x1="119.0" y1="1182.0" x2="127.7" y2="1182.0" stroke="#1b1b1b" stroke-width="2" />
<line x1="764.2" y1="1182.0" x2="770.2" y2="1182.0" stroke="#1b1b1b" stroke-width="2" />
<line x1="119.0" y1="1165.8" x2="127.7" y2="1165.8" stroke="#1b1b1b" stroke-width="2" />
<line x1="764.2" y1="1165.8" x2="770.2" y2="1165.8" stroke="#1b1b1b" stroke-width="2" />
<line x1="119.0" y1="1153.2" x2="127.7" y2="1153.2" stroke="#1b1b1b" stroke-width="2" />
<line x1="764.2" y1="1153.2" x2="770.2" y2="1153.2" stroke="#1b1b1b" stroke-width="2" />
<line x1="119.0" y1="1143.0" x2="127.7" y2="1143.0" stroke="#1b1b1b" stroke-width="2" />
<line x1="764.2" y1="1143.0" x2="770.2" y2="1143.0" stroke="#1b1b1b" stroke-width="2" />
<line x1="119.0" y1="1134.3" x2="127.7" y2="1134.3" stroke="#1b1b1b" stroke-width="2" />
<line x1="764.2" y1="1134.3" x2="770.2" y2="1134.3" stroke="#1b1b1b" stroke-width="2" />
<line x1="119.0" y1="1126.8" x2="127.7" y2="1126.8" stroke="#1b1b1b" stroke-width="2" />
<line x1="764.2" y1="1126.8" x2="770.2" y2="1126.8" stroke="#1b1b1b" stroke-width="2" />
<line x1="119.0" y1="1120.2" x2="127.7" y2="1120.2" stroke="#1b1b1b" stroke-width="2" />
<line x1="764.2" y1="1120.2" x2="770.2" y2="1120.2" stroke="#1b1b1b" stroke-width="2" />
<line x1="108.7" y1="1114.2" x2="127.7" y2="1114.2" stroke="#1b1b1b" stroke-width="2" />
<line x1="756.2" y1="1114.2" x2="770.2" y2="1114.2" stroke="#1b1b1b" stroke-width="2" />
<line x1="119.0" y1="1075.2" x2="127.7" y2="1075.2" stroke="#1b1b1b" stroke-width="2" />
<line x1="764.2" y1="1075.2" x2="770.2" y2="1075.2" stroke="#1b1b1b" stroke-width="2" />
<line x1="119.0" y1="1052.4" x2="127.7" y2="1052.4" stroke="#1b1b1b" stroke-width="2" />
<line x1="764.2" y1="1052.4" x2="770.2" y2="1052.4" stroke="#1b1b1b" stroke-width="2" />
<line x1="119.0" y1="1036.2" x2="127.7" y2="1036.2" stroke="#1b1b1b" stroke-width="2" />
<line x1="764.2" y1="1036.2" x2="770.2" y2="1036.2" stroke="#1b1b1b" stroke-width="2" />
<line x1="119.0" y1="1023.7" x2="127.7" y2="1023.7" stroke="#1b1b1b" stroke-width="2" />
<line x1="764.2" y1="1023.7" x2="770.2" y2="1023.7" stroke="#1b1b1b" stroke-width="2" />
<line x1="119.0" y1="1013.4" x2="127.7" y2="1013.4" stroke="#1b1b1b" stroke-width="2" />
<line x1="764.2" y1="1013.4" x2="770.2" y2="1013.4" stroke="#1b1b1b" stroke-width="2" />
<line x1="119.0" y1="1004.7" x2="127.7" y2="1004.7" stroke="#1b1b1b" stroke-width="2" />
<line x1="764.2" y1="1004.7" x2="770.2" y2="1004.7" stroke="#1b1b1b" stroke-width="2" />
<line x1="119.0" y1="997.2" x2="127.7" y2="997.2" stroke="#1b1b1b" stroke-width="2" />
<line x1="764.2" y1="997.2" x2="770.2" y2="997.2" stroke="#1b1b1b" stroke-width="2" />
<line x1="119.0" y1="990.6" x2="127.7" y2="990.6" stroke="#1b1b1b" stroke-width="2" />
<line x1="764.2" y1="990.6" x2="770.2" y2="990.6" stroke="#1b1b1b" stroke-width="2" />
<line x1="108.7" y1="984.6" x2="127.7" y2="984.6" stroke="#1b1b1b" stroke-width="2" />
<line x1="756.2" y1="984.6" x2="770.2" y2="984.6" stroke="#1b1b1b" stroke-width="2" />
<line x1="119.0" y1="945.6" x2="127.7" y2="945.6" stroke="#1b1b1b" stroke-width="2" />
<line x1="764.2" y1="945.6" x2="770.2" y2="945.6" stroke="#1b1b1b" stroke-width="2" />
<line x1="119.0" y1="922.8" x2="127.7" y2="922.8" stroke="#1b1b1b" stroke-width="2" />
<line x1="764.2" y1="922.8" x2="770.2" y2="922.8" stroke="#1b1b1b" stroke-width="2" />
<line x1="119.0" y1="906.6" x2="127.7" y2="906.6" stroke="#1b1b1b" stroke-width="2" />
<line x1="764.2" y1="906.6" x2="770.2" y2="906.6" stroke="#1b1b1b" stroke-width="2" />
<line x1="119.0" y1="894.1" x2="127.7" y2="894.1" stroke="#1b1b1b" stroke-width="2" />
<line x1="764.2" y1="894.1" x2="770.2" y2="894.1" stroke="#1b1b1b" stroke-width="2" />
<line x1="119.0" y1="883.8" x2="127.7" y2="883.8" stroke="#1b1b1b" stroke-width="2" />
<line x1="764.2" y1="883.8" x2="770.2" y2="883.8" stroke="#1b1b1b" stroke-width="2" />
<line x1="119.0" y1="875.1" x2="127.7" y2="875.1" stroke="#1b1b1b" stroke-width="2" />
<line x1="764.2" y1="875.1" x2="770.2" y2="875.1" stroke="#1b1b1b" stroke-width="2" />
<line x1="119.0" y1="867.6" x2="127.7" y2="867.6" stroke="#1b1b1b" stroke-width="2" />
<line x1="764.2" y1="867.6" x2="770.2" y2="867.6" stroke="#1b1b1b" stroke-width="2" />
<line x1="119.0" y1="861.0" x2="127.7" y2="861.0" stroke="#1b1b1b" stroke-width="2" />
<line x1="764.2" y1="861.0" x2="770.2" y2="861.0" stroke="#1b1b1b" stroke-width="2" />
<line x1="108.7" y1="855.1" x2="127.7" y2="855.1" stroke="#1b1b1b" stroke-width="2" />
<line x1="756.2" y1="855.1" x2="770.2" y2="855.1" stroke="#1b1b1b" stroke-width="2" />
<line x1="119.0" y1="816.1" x2="127.7" y2="816.1" stroke="#1b1b1b" stroke-width="2" />
<line x1="764.2" y1="816.1" x2="770.2" y2="816.1" stroke="#1b1b1b" stroke-width="2" />
<line x1="119.0" y1="793.3" x2="127.7" y2="793.3" stroke="#1b1b1b" stroke-width="2" />
<line x1="764.2" y1="793.3" x2="770.2" y2="793.3" stroke="#1b1b1b" stroke-width="2" />
<line x1="119.0" y1="777.1" x2="127.7" y2="777.1" stroke="#1b1b1b" stroke-width="2" />
<line x1="764.2" y1="777.1" x2="770.2" y2="777.1" stroke="#1b1b1b" stroke-width="2" />
<line x1="119.0" y1="764.5" x2="127.7" y2="764.5" stroke="#1b1b1b" stroke-width="2" />
<line x1="764.2" y1="764.5" x2="770.2" y2="764.5" stroke="#1b1b1b" stroke-width="2" />
<line x1="119.0" y1="754.2" x2="127.7" y2="754.2" stroke="#1b1b1b" stroke-width="2" />
<line x1="764.2" y1="754.2" x2="770.2" y2="754.2" stroke="#1b1b1b" stroke-width="2" />
<line x1="119.0" y1="745.6" x2="127.7" y2="745.6" stroke="#1b1b1b" stroke-width="2" />
<line x1="764.2" y1="745.6" x2="770.2" y2="745.6" stroke="#1b1b1b" stroke-width="2" />
<line x1="119.0" y1="738.1" x2="127.7" y2="738.1" stroke="#1b1b1b" stroke-width="2" />
<line x1="764.2" y1="738.1" x2="770.2" y2="738.1" stroke="#1b1b1b" stroke-width="2" />
<line x1="119.0" y1="731.4" x2="127.7" y2="731.4" stroke="#1b1b1b" stroke-width="2" />
<line x1="764.2" y1="731.4" x2="770.2" y2="731.4" stroke="#1b1b1b" stroke-width="2" />
<line x1="108.7" y1="725.5" x2="127.7" y2="725.5" stroke="#1b1b1b" stroke-width="2" />
<line x1="756.2" y1="725.5" x2="770.2" y2="725.5" stroke="#1b1b1b" stroke-width="2" />
<line x1="127.7" y1="1243.8" x2="127.7" y2="1252.8" stroke="#1b1b1b" stroke-width="2" />
<line x1="147.2" y1="1243.8" x2="147.2" y2="1252.8" stroke="#1b1b1b" stroke-width="2" />
<line x1="166.7" y1="1243.8" x2="166.7" y2="1260.8" stroke="#1b1b1b" stroke-width="2" />
<line x1="186.2" y1="1243.8" x2="186.2" y2="1252.8" stroke="#1b1b1b" stroke-width="2" />
<line x1="205.7" y1="1243.8" x2="205.7" y2="1252.8" stroke="#1b1b1b" stroke-width="2" />
<line x1="225.2" y1="1243.8" x2="225.2" y2="1252.8" stroke="#1b1b1b" stroke-width="2" />
<line x1="244.7" y1="1243.8" x2="244.7" y2="1252.8" stroke="#1b1b1b" stroke-width="2" />
<line x1="264.2" y1="1243.8" x2="264.2" y2="1252.8" stroke="#1b1b1b" stroke-width="2" />
<line x1="283.7" y1="1243.8" x2="283.7" y2="1252.8" stroke="#1b1b1b" stroke-width="2" />
<line x1="303.2" y1="1243.8" x2="303.2" y2="1252.8" stroke="#1b1b1b" stroke-width="2" />
<line x1="322.7" y1="1243.8" x2="322.7" y2="1252.8" stroke="#1b1b1b" stroke-width="2" />
<line x1="342.2" y1="1243.8" x2="342.2" y2="1252.8" stroke="#1b1b1b" stroke-width="2" />
<line x1="361.7" y1="1243.8" x2="361.7" y2="1260.8" stroke="#1b1b1b" stroke-width="2" />
<line x1="381.2" y1="1243.8" x2="381.2" y2="1252.8" stroke="#1b1b1b" stroke-width="2" />
<line x1="400.7" y1="1243.8" x2="400.7" y2="1252.8" stroke="#1b1b1b" stroke-width="2" />
<line x1="420.2" y1="1243.8" x2="420.2" y2="1252.8" stroke="#1b1b1b" stroke-width="2" />
<line x1="439.7" y1="1243.8" x2="439.7" y2="1252.8" stroke="#1b1b1b" stroke-width="2" />
<line x1="459.2" y1="1243.8" x2="459.2" y2="1252.8" stroke="#1b1b1b" stroke-width="2" />
<line x1="478.7" y1="1243.8" x2="478.7" y2="1252.8" stroke="#1b1b1b" stroke-width="2" />
<line x1="498.2" y1="1243.8" x2="498.2" y2="1252.8" stroke="#1b1b1b" stroke-width="2" />
<line x1="517.7" y1="1243.8" x2="517.7" y2="1252.8" stroke="#1b1b1b" stroke-width="2" />
<line x1="537.2" y1="1243.8" x2="537.2" y2="1252.8" stroke="#1b1b1b" stroke-width="2" />
<line x1="556.7" y1="1243.8" x2="556.7" y2="1260.8" stroke="#1b1b1b" stroke-width="2" />
<line x1="576.2" y1="1243.8" x2="576.2" y2="1252.8" stroke="#1b1b1b" stroke-width="2" />
<line x1="595.7" y1="1243.8" x2="595.7" y2="1252.8" stroke="#1b1b1b" stroke-width="2" />
<line x1="615.2" y1="1243.8" x2="615.2" y2="1252.8" stroke="#1b1b1b" stroke-width="2" />
<line x1="634.7" y1="1243.8" x2="634.7" y2="1252.8" stroke="#1b1b1b" stroke-width="2" />
<line x1="654.2" y1="1243.8" x2="654.2" y2="1252.8" stroke="#1b1b1b" stroke-width="2" />
<line x1="673.7" y1="1243.8" x2="673.7" y2="1252.8" stroke="#1b1b1b" stroke-width="2" />
<line x1="693.2" y1="1243.8" x2="693.2" y2="1252.8" stroke="#1b1b1b" stroke-width="2" />
<line x1="712.7" y1="1243.8" x2="712.7" y2="1252.8" stroke="#1b1b1b" stroke-width="2" />
<line x1="732.2" y1="1243.8" x2="732.2" y2="1252.8" stroke="#1b1b1b" stroke-width="2" />
<line x1="751.7" y1="1243.8" x2="751.7" y2="1260.8" stroke="#1b1b1b" stroke-width="2" />
<line x1="172.3" y1="725.5" x2="172.3" y2="735.5" stroke="#1b1b1b" stroke-width="2" />
<line x1="247.0" y1="725.5" x2="247.0" y2="730.5" stroke="#1b1b1b" stroke-width="2" />
<line x1="321.7" y1="725.5" x2="321.7" y2="735.5" stroke="#1b1b1b" stroke-width="2" />
<line x1="396.4" y1="725.5" x2="396.4" y2="730.5" stroke="#1b1b1b" stroke-width="2" />
<line x1="471.1" y1="725.5" x2="471.1" y2="735.5" stroke="#1b1b1b" stroke-width="2" />
<line x1="545.8" y1="725.5" x2="545.8" y2="730.5" stroke="#1b1b1b" stroke-width="2" />
<line x1="620.5" y1="725.5" x2="620.5" y2="735.5" stroke="#1b1b1b" stroke-width="2" />
<line x1="695.2" y1="725.5" x2="695.2" y2="730.5" stroke="#1b1b1b" stroke-width="2" />
<line x1="769.9" y1="725.5" x2="769.9" y2="735.5" stroke="#1b1b1b" stroke-width="2" />
<rect x="127.7" y="725.5" width="642.5" height="518.3" fill="none" stroke="#1b1b1b" stroke-width="2.2"/>
<clipPath id="cpB"><rect x="100" y="700" width="674" height="560"/></clipPath><g clip-path="url(#cpB)">
<circle cx="135.5" cy="817.9" r="6" fill="#dc2a1f"/>
<circle cx="156.3" cy="822.1" r="6" fill="#dc2a1f"/>
<circle cx="161.4" cy="824.6" r="6" fill="#dc2a1f"/>
<circle cx="168.2" cy="826.3" r="6" fill="#dc2a1f"/>
<circle cx="175.0" cy="824.6" r="6" fill="#dc2a1f"/>
<circle cx="180.9" cy="823.8" r="6" fill="#dc2a1f"/>
<circle cx="189.3" cy="824.6" r="6" fill="#dc2a1f"/>
<circle cx="197.0" cy="822.1" r="6" fill="#dc2a1f"/>
<circle cx="209.6" cy="821.2" r="6" fill="#dc2a1f"/>
<circle cx="225.7" cy="824.6" r="6" fill="#dc2a1f"/>
<circle cx="231.7" cy="822.9" r="6" fill="#dc2a1f"/>
<circle cx="236.7" cy="830.6" r="6" fill="#dc2a1f"/>
<circle cx="246.0" cy="827.2" r="6" fill="#dc2a1f"/>
<circle cx="347.6" cy="906.0" r="6" fill="#dc2a1f"/>
<circle cx="359.6" cy="919.3" r="6" fill="#dc2a1f"/>
<circle cx="380.9" cy="934.5" r="6" fill="#dc2a1f"/>
<circle cx="387.5" cy="935.2" r="6" fill="#dc2a1f"/>
<circle cx="390.9" cy="939.2" r="6" fill="#dc2a1f"/>
<circle cx="391.5" cy="947.8" r="6" fill="#dc2a1f"/>
<circle cx="402.8" cy="941.2" r="6" fill="#dc2a1f"/>
<circle cx="407.5" cy="941.9" r="6" fill="#dc2a1f"/>
<circle cx="408.1" cy="951.8" r="6" fill="#dc2a1f"/>
<circle cx="404.1" cy="945.9" r="6" fill="#dc2a1f"/>
<circle cx="432.7" cy="951.8" r="6" fill="#dc2a1f"/>
<circle cx="470.6" cy="977.2" r="6" fill="#dc2a1f"/>
<circle cx="496.1" cy="984.2" r="6" fill="#dc2a1f"/>
<circle cx="522.0" cy="999.8" r="6" fill="#dc2a1f"/>
<circle cx="533.6" cy="999.8" r="6" fill="#dc2a1f"/>
<circle cx="551.6" cy="1018.3" r="6" fill="#dc2a1f"/>
<polygon points="596.6,1018.3 590.0,1024.3 585.7,1037.6 583.9,1047.3 588.1,1069.1 602.0,1072.1 617.2,1081.2 620.8,1096.9 625.6,1092.1 626.8,1076.3 634.1,1058.2 619.6,1037.6 605.1,1029.2" fill="#dc2a1f" opacity="1"/>
<circle cx="596.6" cy="1018.3" r="6" fill="#dc2a1f"/>
<circle cx="590.0" cy="1024.3" r="6" fill="#dc2a1f"/>
<circle cx="585.7" cy="1037.6" r="6" fill="#dc2a1f"/>
<circle cx="583.9" cy="1047.3" r="6" fill="#dc2a1f"/>
<circle cx="588.1" cy="1069.1" r="6" fill="#dc2a1f"/>
<circle cx="602.0" cy="1072.1" r="6" fill="#dc2a1f"/>
<circle cx="617.2" cy="1081.2" r="6" fill="#dc2a1f"/>
<circle cx="620.8" cy="1096.9" r="6" fill="#dc2a1f"/>
<circle cx="625.6" cy="1092.1" r="6" fill="#dc2a1f"/>
<circle cx="626.8" cy="1076.3" r="6" fill="#dc2a1f"/>
<circle cx="634.1" cy="1058.2" r="6" fill="#dc2a1f"/>
<circle cx="619.6" cy="1037.6" r="6" fill="#dc2a1f"/>
<circle cx="605.1" cy="1029.2" r="6" fill="#dc2a1f"/>
<circle cx="652.2" cy="1072.0" r="6" fill="#dc2a1f"/>
<circle cx="652.2" cy="1078.0" r="6" fill="#dc2a1f"/>
<circle cx="638.9" cy="1077.6" r="6" fill="#dc2a1f"/>
<circle cx="640.1" cy="1087.2" r="6" fill="#dc2a1f"/>
<circle cx="648.6" cy="1098.1" r="6" fill="#dc2a1f"/>
<circle cx="653.4" cy="1103.0" r="6" fill="#dc2a1f"/>
<circle cx="636.5" cy="1108.4" r="6" fill="#dc2a1f"/>
<circle cx="657.7" cy="1119.3" r="6" fill="#dc2a1f"/>
<circle cx="661.3" cy="1142.2" r="6" fill="#dc2a1f"/>
<circle cx="655.0" cy="1077.9" r="6" fill="#dc2a1f"/>
<circle cx="656.6" cy="1103.0" r="6" fill="#dc2a1f"/>
<circle cx="658.1" cy="1120.3" r="6" fill="#dc2a1f"/>
<circle cx="661.3" cy="1142.3" r="6" fill="#dc2a1f"/>
<circle cx="681.0" cy="1152.5" r="6" fill="#dc2a1f"/>
<polygon points="669.2,1093.6 675.4,1088.9 694.3,1093.6 710.0,1092.8 719.5,1088.9 728.9,1083.4 733.6,1090.4 735.2,1106.2 746.2,1114.0 747.8,1125.0 749.3,1142.3 746.2,1151.8 749.3,1165.9 696.7,1165.9 695.9,1153.3 681.7,1142.3 672.3,1125.0 669.2,1109.3" fill="#dc2a1f" opacity="1"/>
<circle cx="669.2" cy="1093.6" r="6" fill="#dc2a1f"/>
<circle cx="675.4" cy="1088.9" r="6" fill="#dc2a1f"/>
<circle cx="694.3" cy="1093.6" r="6" fill="#dc2a1f"/>
<circle cx="710.0" cy="1092.8" r="6" fill="#dc2a1f"/>
<circle cx="719.5" cy="1088.9" r="6" fill="#dc2a1f"/>
<circle cx="728.9" cy="1083.4" r="6" fill="#dc2a1f"/>
<circle cx="733.6" cy="1090.4" r="6" fill="#dc2a1f"/>
<circle cx="735.2" cy="1106.2" r="6" fill="#dc2a1f"/>
<circle cx="746.2" cy="1114.0" r="6" fill="#dc2a1f"/>
<circle cx="747.8" cy="1125.0" r="6" fill="#dc2a1f"/>
<circle cx="749.3" cy="1142.3" r="6" fill="#dc2a1f"/>
<circle cx="746.2" cy="1151.8" r="6" fill="#dc2a1f"/>
<circle cx="749.3" cy="1165.9" r="6" fill="#dc2a1f"/>
<circle cx="696.7" cy="1165.9" r="6" fill="#dc2a1f"/>
<circle cx="695.9" cy="1153.3" r="6" fill="#dc2a1f"/>
<circle cx="681.7" cy="1142.3" r="6" fill="#dc2a1f"/>
<circle cx="672.3" cy="1125.0" r="6" fill="#dc2a1f"/>
<circle cx="669.2" cy="1109.3" r="6" fill="#dc2a1f"/>
<polygon points="692.7,1160.0 773.0,1160.0 773.0,1170.6 692.7,1170.6" fill="#dc2a1f" opacity="1"/>
<circle cx="693.0" cy="1165.0" r="6" fill="#dc2a1f"/>
<circle cx="699.0" cy="1165.0" r="6" fill="#dc2a1f"/>
<circle cx="705.0" cy="1165.0" r="6" fill="#dc2a1f"/>
<circle cx="711.0" cy="1165.0" r="6" fill="#dc2a1f"/>
<circle cx="717.0" cy="1165.0" r="6" fill="#dc2a1f"/>
<circle cx="723.0" cy="1165.0" r="6" fill="#dc2a1f"/>
<circle cx="729.0" cy="1165.0" r="6" fill="#dc2a1f"/>
<circle cx="735.0" cy="1165.0" r="6" fill="#dc2a1f"/>
<circle cx="741.0" cy="1165.0" r="6" fill="#dc2a1f"/>
<circle cx="747.0" cy="1165.0" r="6" fill="#dc2a1f"/>
<circle cx="753.0" cy="1165.0" r="6" fill="#dc2a1f"/>
<circle cx="759.0" cy="1165.0" r="6" fill="#dc2a1f"/>
<circle cx="765.0" cy="1165.0" r="6" fill="#dc2a1f"/>
<circle cx="771.0" cy="1165.0" r="6" fill="#dc2a1f"/>
<polygon points="757.2,1101.4 771.4,1101.4 771.4,1167.5 757.2,1167.5" fill="#dc2a1f" opacity="1"/>
<circle cx="761.9" cy="1101.4" r="6" fill="#dc2a1f"/>
<circle cx="767.0" cy="1108.0" r="6" fill="#dc2a1f"/>
<polygon points="697.0,1176.0 746.0,1176.0 746.0,1188.0 697.0,1188.0" fill="#dc2a1f" opacity="1"/>
<circle cx="697.0" cy="1182.0" r="6" fill="#dc2a1f"/>
<circle cx="746.0" cy="1182.0" r="6" fill="#dc2a1f"/>
<polygon points="760.3,1176.0 767.0,1176.0 767.0,1188.0 760.3,1188.0" fill="#dc2a1f" opacity="1"/>
<circle cx="760.3" cy="1182.0" r="6" fill="#dc2a1f"/>
<circle cx="767.0" cy="1182.0" r="6" fill="#dc2a1f"/>
<circle cx="688.0" cy="1204.8" r="6" fill="#dc2a1f"/>
<polygon points="708.0,1198.8 740.0,1198.8 740.0,1210.8 708.0,1210.8" fill="#dc2a1f" opacity="1"/>
<circle cx="708.0" cy="1204.8" r="6" fill="#dc2a1f"/>
<circle cx="740.0" cy="1204.8" r="6" fill="#dc2a1f"/>
<polygon points="761.0,1198.8 767.0,1198.8 767.0,1210.8 761.0,1210.8" fill="#dc2a1f" opacity="1"/>
<circle cx="761.0" cy="1204.8" r="6" fill="#dc2a1f"/>
<circle cx="767.0" cy="1204.8" r="6" fill="#dc2a1f"/>
<polygon points="698.0,1237.8 734.0,1237.8 734.0,1249.8 698.0,1249.8" fill="#dc2a1f" opacity="1"/>
<circle cx="698.0" cy="1243.8" r="6" fill="#dc2a1f"/>
<circle cx="734.0" cy="1243.8" r="6" fill="#dc2a1f"/>
<polygon points="760.0,1237.8 767.0,1237.8 767.0,1249.8 760.0,1249.8" fill="#dc2a1f" opacity="1"/>
<circle cx="760.0" cy="1243.8" r="6" fill="#dc2a1f"/>
<circle cx="767.0" cy="1243.8" r="6" fill="#dc2a1f"/>
<path d="M172.3,814.5 L321.6,859.5 L471.2,923.0 L620.6,1020.0 L770.2,1184.3" fill="none" stroke="#bb5aa6" stroke-width="2.3" stroke-dasharray="8.5 10" stroke-dashoffset="-6"/>
<path d="M172.3,1004.3 L321.8,1053.2 L471.3,1100.6 L620.6,1146.6 L770.2,1189.5" fill="none" stroke="#2b3590" stroke-width="2.3" stroke-dasharray="8.5 10" stroke-dashoffset="-6"/>
<polygon points="172.3,807.5 178.3,818.0 166.3,818.0" fill="#fff" fill-opacity="0.0" stroke="#bb5aa6" stroke-width="2.8"/>
<polygon points="321.6,852.5 327.6,863.0 315.6,863.0" fill="#fff" fill-opacity="0.0" stroke="#bb5aa6" stroke-width="2.8"/>
<polygon points="471.2,916.0 477.2,926.5 465.2,926.5" fill="#fff" fill-opacity="0.0" stroke="#bb5aa6" stroke-width="2.8"/>
<polygon points="620.6,1013.0 626.6,1023.5 614.6,1023.5" fill="#fff" fill-opacity="0.0" stroke="#bb5aa6" stroke-width="2.8"/>
<polygon points="770.2,1177.3 776.2,1187.8 764.2,1187.8" fill="#fff" fill-opacity="0.0" stroke="#bb5aa6" stroke-width="2.8"/>
<polygon points="172.3,1011.3 178.3,1000.8 166.3,1000.8" fill="#fff" fill-opacity="0.0" stroke="#2b3590" stroke-width="2.8"/>
<polygon points="321.8,1060.2 327.8,1049.7 315.8,1049.7" fill="#fff" fill-opacity="0.0" stroke="#2b3590" stroke-width="2.8"/>
<polygon points="471.3,1107.6 477.3,1097.1 465.3,1097.1" fill="#fff" fill-opacity="0.0" stroke="#2b3590" stroke-width="2.8"/>
<polygon points="620.6,1153.6 626.6,1143.1 614.6,1143.1" fill="#fff" fill-opacity="0.0" stroke="#2b3590" stroke-width="2.8"/>
<polygon points="770.2,1196.5 776.2,1186.0 764.2,1186.0" fill="#fff" fill-opacity="0.0" stroke="#2b3590" stroke-width="2.8"/>
</g>
<rect x="404" y="761.5" width="334" height="107" fill="#fff"/>
<circle cx="448.4" cy="783.7" r="6.6" fill="#dc2a1f"/>
<line x1="420.6" y1="818.0" x2="427.8" y2="818.0" stroke="#2b3590" stroke-width="2.8" />
<line x1="458.0" y1="818.0" x2="465.3" y2="818.0" stroke="#2b3590" stroke-width="2.8" />
<polygon points="448.4,825.5 454.4,815.0 442.4,815.0" fill="#fff" fill-opacity="0.0" stroke="#2b3590" stroke-width="2.8"/>
<line x1="420.6" y1="848.3" x2="427.8" y2="848.3" stroke="#bb5aa6" stroke-width="2.8" />
<line x1="458.0" y1="848.3" x2="465.3" y2="848.3" stroke="#bb5aa6" stroke-width="2.8" />
<polygon points="448.4,841.0 454.4,851.5 442.4,851.5" fill="#fff" fill-opacity="0.0" stroke="#bb5aa6" stroke-width="2.8"/>
<text x="484.00" y="791.40" font-size="23.5" font-weight="normal" font-style="normal" textLength="179.60" lengthAdjust="spacingAndGlyphs" >Experimental data</text>
<text x="483.98" y="826.30" font-size="23.5" font-weight="normal" font-style="normal" textLength="182.78" lengthAdjust="spacingAndGlyphs" >Model considering</text>
<text x="670.80" y="826.30" font-size="23.5" font-weight="normal" font-style="italic" textLength="14.39" lengthAdjust="spacingAndGlyphs" >h</text>
<text x="483.98" y="856.40" font-size="23.5" font-weight="normal" font-style="normal" textLength="182.78" lengthAdjust="spacingAndGlyphs" >Model considering</text>
<text x="670.80" y="856.40" font-size="23.5" font-weight="normal" font-style="italic" textLength="14.39" lengthAdjust="spacingAndGlyphs" >h</text>
<rect x="726.40" y="808.80" width="3.00" height="17.80" fill="#1b1b1b"/><polygon points="726.80,808.80 722.30,813.64 722.45,814.46 723.10,814.94 726.80,812.36" fill="#1b1b1b"/>
<rect x="724.70" y="838.90" width="3.40" height="17.80" fill="#1b1b1b"/><polygon points="725.10,838.90 721.00,843.74 721.15,844.56 721.80,845.04 725.10,842.46" fill="#1b1b1b"/>
<path d="M691.2,813.1 L701.3,817.7 L691.2,822.3" fill="none" stroke="#1b1b1b" stroke-width="2.1" stroke-linejoin="miter" stroke-miterlimit="10"/>
<path d="M702.6,813.1 L712.7,817.7 L702.6,822.3" fill="none" stroke="#1b1b1b" stroke-width="2.1" stroke-linejoin="miter" stroke-miterlimit="10"/>
<path d="M701.5,843.1 L691.4,847.8 L701.5,852.5" fill="none" stroke="#1b1b1b" stroke-width="2.1" stroke-linejoin="miter" stroke-miterlimit="10"/>
<path d="M711.2,843.1 L701.1,847.8 L711.2,852.5" fill="none" stroke="#1b1b1b" stroke-width="2.1" stroke-linejoin="miter" stroke-miterlimit="10"/>
<rect x="65.10" y="1232.20" width="3.20" height="21.80" fill="#1b1b1b"/><polygon points="65.50,1232.20 60.00,1238.13 60.15,1239.13 60.80,1239.72 65.50,1236.56" fill="#1b1b1b"/>
<text x="72.03" y="1254.00" font-size="31" font-weight="normal" font-style="normal" textLength="16.79" lengthAdjust="spacingAndGlyphs" >0</text>
<text x="86.39" y="1239.10" font-size="16.6" font-weight="normal" font-style="normal" textLength="11.21" lengthAdjust="spacingAndGlyphs" >2</text>
<rect x="65.10" y="1102.62" width="3.20" height="21.80" fill="#1b1b1b"/><polygon points="65.50,1102.62 60.00,1108.55 60.15,1109.56 60.80,1110.15 65.50,1106.98" fill="#1b1b1b"/>
<text x="72.03" y="1124.42" font-size="31" font-weight="normal" font-style="normal" textLength="16.79" lengthAdjust="spacingAndGlyphs" >0</text>
<text x="86.54" y="1109.52" font-size="16.6" font-weight="normal" font-style="normal" textLength="9.81" lengthAdjust="spacingAndGlyphs" >3</text>
<rect x="65.10" y="973.05" width="3.20" height="21.80" fill="#1b1b1b"/><polygon points="65.50,973.05 60.00,978.98 60.15,979.98 60.80,980.57 65.50,977.41" fill="#1b1b1b"/>
<text x="72.03" y="994.85" font-size="31" font-weight="normal" font-style="normal" textLength="16.79" lengthAdjust="spacingAndGlyphs" >0</text>
<text x="87.60" y="979.95" font-size="16.6" font-weight="normal" font-style="normal" textLength="8.72" lengthAdjust="spacingAndGlyphs" >4</text>
<rect x="65.10" y="843.48" width="3.20" height="21.80" fill="#1b1b1b"/><polygon points="65.50,843.48 60.00,849.40 60.15,850.41 60.80,851.00 65.50,847.84" fill="#1b1b1b"/>
<text x="72.03" y="865.28" font-size="31" font-weight="normal" font-style="normal" textLength="16.79" lengthAdjust="spacingAndGlyphs" >0</text>
<text x="86.54" y="850.38" font-size="16.6" font-weight="normal" font-style="normal" textLength="9.81" lengthAdjust="spacingAndGlyphs" >5</text>
<rect x="65.10" y="713.90" width="3.20" height="21.80" fill="#1b1b1b"/><polygon points="65.50,713.90 60.00,719.83 60.15,720.83 60.80,721.42 65.50,718.26" fill="#1b1b1b"/>
<text x="72.03" y="735.70" font-size="31" font-weight="normal" font-style="normal" textLength="16.79" lengthAdjust="spacingAndGlyphs" >0</text>
<text x="86.54" y="720.80" font-size="16.6" font-weight="normal" font-style="normal" textLength="9.81" lengthAdjust="spacingAndGlyphs" >6</text>
<text x="163.41" y="709.00" font-size="32.5" font-weight="normal" font-style="normal" textLength="17.85" lengthAdjust="spacingAndGlyphs" >4</text>
<text x="313.12" y="709.00" font-size="32.5" font-weight="normal" font-style="normal" textLength="18.80" lengthAdjust="spacingAndGlyphs" >5</text>
<text x="463.29" y="709.00" font-size="32.5" font-weight="normal" font-style="normal" textLength="17.23" lengthAdjust="spacingAndGlyphs" >6</text>
<text x="612.27" y="709.00" font-size="32.5" font-weight="normal" font-style="normal" textLength="17.48" lengthAdjust="spacingAndGlyphs" >7</text>
<text x="763.37" y="709.00" font-size="32.5" font-weight="normal" font-style="normal" textLength="16.84" lengthAdjust="spacingAndGlyphs" >8</text>
<rect x="111.00" y="1280.10" width="3.00" height="22.40" fill="#1b1b1b"/><polygon points="111.40,1280.10 105.20,1286.19 105.35,1287.22 106.00,1287.83 111.40,1284.58" fill="#1b1b1b"/>
<text x="118.48" y="1302.50" font-size="31" font-weight="normal" font-style="normal" textLength="26.92" lengthAdjust="spacingAndGlyphs" >.5</text>
<line x1="157.6" y1="1287.8" x2="171.6" y2="1301.4" stroke="#1b1b1b" stroke-width="2.5" />
<line x1="171.6" y1="1287.8" x2="157.6" y2="1301.4" stroke="#1b1b1b" stroke-width="2.5" />
<rect x="191.00" y="1280.10" width="3.20" height="22.40" fill="#1b1b1b"/><polygon points="191.40,1280.10 185.70,1286.19 185.85,1287.22 186.50,1287.83 191.40,1284.58" fill="#1b1b1b"/>
<text x="200.25" y="1302.50" font-size="31" font-weight="normal" font-style="normal" textLength="18.05" lengthAdjust="spacingAndGlyphs" >0</text>
<line x1="217.8" y1="1287.7" x2="228.4" y2="1287.7" stroke="#1b1b1b" stroke-width="1.9" />
<text x="228.40" y="1291.50" font-size="16" font-weight="normal" font-style="normal" textLength="9.20" lengthAdjust="spacingAndGlyphs" >4</text>
<text x="298.50" y="1302.50" font-size="31" font-weight="normal" font-style="normal" textLength="43.00" lengthAdjust="spacingAndGlyphs" >2.0</text>
<line x1="353.5" y1="1287.8" x2="367.5" y2="1301.4" stroke="#1b1b1b" stroke-width="2.5" />
<line x1="367.5" y1="1287.8" x2="353.5" y2="1301.4" stroke="#1b1b1b" stroke-width="2.5" />
<rect x="386.90" y="1280.10" width="3.20" height="22.40" fill="#1b1b1b"/><polygon points="387.30,1280.10 381.60,1286.19 381.75,1287.22 382.40,1287.83 387.30,1284.58" fill="#1b1b1b"/>
<text x="396.15" y="1302.50" font-size="31" font-weight="normal" font-style="normal" textLength="18.05" lengthAdjust="spacingAndGlyphs" >0</text>
<line x1="413.7" y1="1287.7" x2="424.3" y2="1287.7" stroke="#1b1b1b" stroke-width="1.9" />
<text x="424.30" y="1291.50" font-size="16" font-weight="normal" font-style="normal" textLength="9.20" lengthAdjust="spacingAndGlyphs" >4</text>
<text x="494.40" y="1302.50" font-size="31" font-weight="normal" font-style="normal" textLength="43.00" lengthAdjust="spacingAndGlyphs" >2.5</text>
<line x1="549.4" y1="1287.8" x2="563.4" y2="1301.4" stroke="#1b1b1b" stroke-width="2.5" />
<line x1="563.4" y1="1287.8" x2="549.4" y2="1301.4" stroke="#1b1b1b" stroke-width="2.5" />
<rect x="582.80" y="1280.10" width="3.20" height="22.40" fill="#1b1b1b"/><polygon points="583.20,1280.10 577.50,1286.19 577.65,1287.22 578.30,1287.83 583.20,1284.58" fill="#1b1b1b"/>
<text x="592.05" y="1302.50" font-size="31" font-weight="normal" font-style="normal" textLength="18.05" lengthAdjust="spacingAndGlyphs" >0</text>
<line x1="609.6" y1="1287.7" x2="620.2" y2="1287.7" stroke="#1b1b1b" stroke-width="1.9" />
<text x="620.20" y="1291.50" font-size="16" font-weight="normal" font-style="normal" textLength="9.20" lengthAdjust="spacingAndGlyphs" >4</text>
<text x="691.33" y="1302.50" font-size="31" font-weight="normal" font-style="normal" textLength="41.95" lengthAdjust="spacingAndGlyphs" >3.0</text>
<line x1="745.3" y1="1287.8" x2="759.3" y2="1301.4" stroke="#1b1b1b" stroke-width="2.5" />
<line x1="759.3" y1="1287.8" x2="745.3" y2="1301.4" stroke="#1b1b1b" stroke-width="2.5" />
<rect x="778.70" y="1280.10" width="3.20" height="22.40" fill="#1b1b1b"/><polygon points="779.10,1280.10 773.40,1286.19 773.55,1287.22 774.20,1287.83 779.10,1284.58" fill="#1b1b1b"/>
<text x="787.95" y="1302.50" font-size="31" font-weight="normal" font-style="normal" textLength="18.06" lengthAdjust="spacingAndGlyphs" >0</text>
<line x1="805.5" y1="1287.7" x2="816.1" y2="1287.7" stroke="#1b1b1b" stroke-width="1.9" />
<text x="816.10" y="1291.50" font-size="16" font-weight="normal" font-style="normal" textLength="9.20" lengthAdjust="spacingAndGlyphs" >4</text>
<text x="308.97" y="670.80" font-size="30.5" font-weight="normal" font-style="normal" textLength="247.58" lengthAdjust="spacingAndGlyphs" >Channel number N</text>
<text x="316.51" y="1345.00" font-size="32" font-weight="normal" font-style="normal" textLength="266.20" lengthAdjust="spacingAndGlyphs" >Electrical power (W)</text>
<g transform="translate(36.3,1169.7) rotate(-90)">
<text x="-2.68" y="0.00" font-size="33" font-weight="normal" font-style="normal" textLength="302.07" lengthAdjust="spacingAndGlyphs" >Photon counts (count s</text>
<text x="297.63" y="-16.30" font-size="20" font-weight="normal" font-style="normal" textLength="19.77" lengthAdjust="spacingAndGlyphs" >−1</text>
<text x="320.06" y="0.00" font-size="33" font-weight="normal" font-style="normal" textLength="10.31" lengthAdjust="spacingAndGlyphs" >)</text>
</g>
<text x="5.68" y="688.70" font-size="43.5" font-weight="bold" font-style="normal" textLength="29.56" lengthAdjust="spacingAndGlyphs" >B</text>
</svg></body></html>
